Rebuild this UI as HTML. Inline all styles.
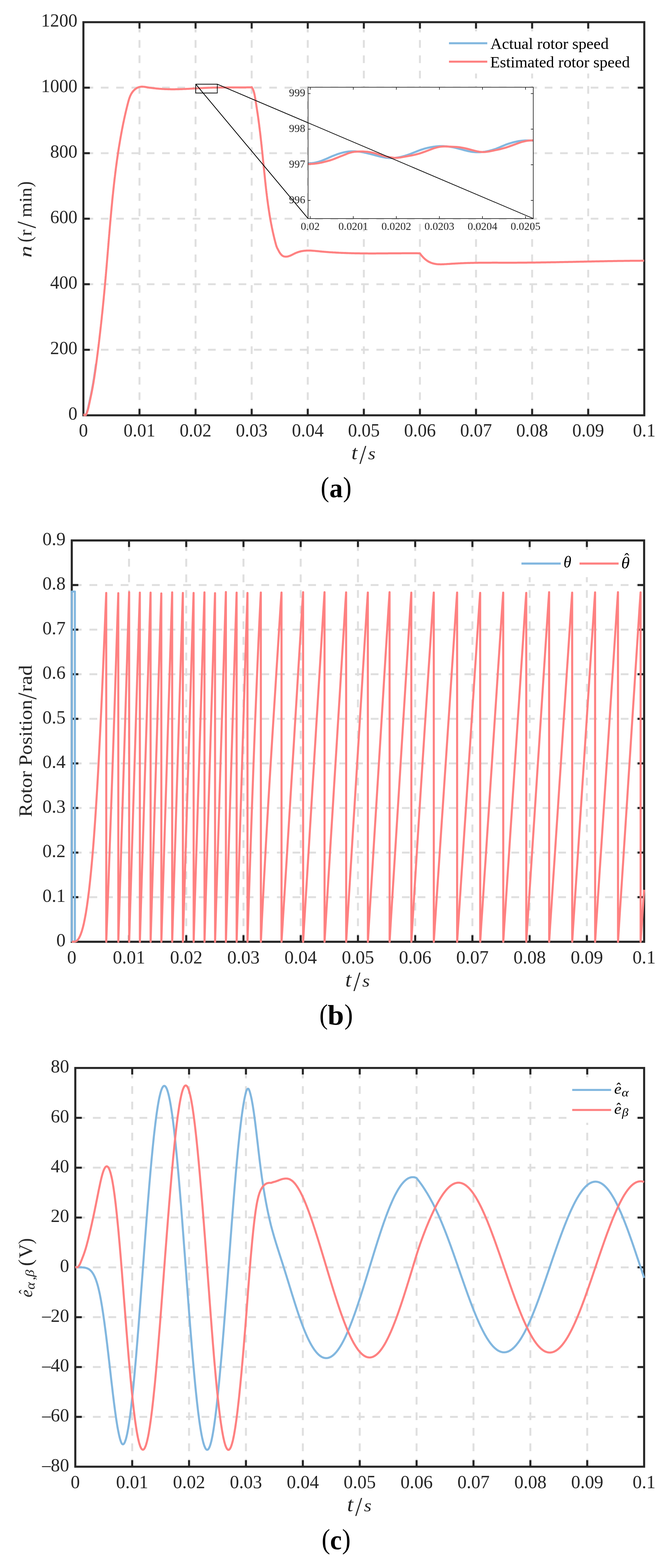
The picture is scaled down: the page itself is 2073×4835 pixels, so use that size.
<!DOCTYPE html>
<html lang="en"><head><meta charset="utf-8"><title>Rotor speed, rotor position and back-EMF estimation</title>
<style>html,body{margin:0;padding:0;background:#fff}body{width:2073px;height:4835px;overflow:hidden}svg{display:block;font-family:'Liberation Serif','DejaVu Serif',serif;font-kerning:none}</style></head><body>
<svg width="2073" height="4835" viewBox="0 0 2073 4835">
<rect width="2073" height="4835" fill="#fff"/>
<defs>
<clipPath id="ca"><rect x="254.2" y="65.2" width="1736.4" height="1218.4"/></clipPath>
<clipPath id="cb"><rect x="218.3" y="1663.4" width="1771.8" height="1243.7"/></clipPath>
<clipPath id="cc"><rect x="229.2" y="3290.1" width="1760.9" height="1235.7"/></clipPath>
</defs>
<g id="chart-a">
<path d="M430.3 1280.5V68.3M603.3 1280.5V68.3M776.4 1280.5V68.3M949.4 1280.5V68.3M1122.4 1280.5V68.3M1295.4 1280.5V68.3M1468.4 1280.5V68.3M1641.5 1280.5V68.3M1814.5 1280.5V68.3M1987.5 1078.5H257.3M1987.5 876.4H257.3M1987.5 674.4H257.3M1987.5 472.4H257.3M1987.5 270.3H257.3" fill="none" stroke="#dfdfdf" stroke-width="5.9" stroke-dasharray="23.61 23.61"/>
<path d="M257.3 68.3H1987.5V1280.5H257.3ZM430.3 1280.5v-19.8M430.3 68.3v19.8M603.3 1280.5v-19.8M603.3 68.3v19.8M776.4 1280.5v-19.8M776.4 68.3v19.8M949.4 1280.5v-19.8M949.4 68.3v19.8M1122.4 1280.5v-19.8M1122.4 68.3v19.8M1295.4 1280.5v-19.8M1295.4 68.3v19.8M1468.4 1280.5v-19.8M1468.4 68.3v19.8M1641.5 1280.5v-19.8M1641.5 68.3v19.8M1814.5 1280.5v-19.8M1814.5 68.3v19.8M257.3 1078.5h19.8M1987.5 1078.5h-19.8M257.3 876.4h19.8M1987.5 876.4h-19.8M257.3 674.4h19.8M1987.5 674.4h-19.8M257.3 472.4h19.8M1987.5 472.4h-19.8M257.3 270.3h19.8M1987.5 270.3h-19.8" fill="none" stroke="#262626" stroke-width="6.25" stroke-linejoin="miter"/>
<rect x="603.9" y="259.6" width="66.4" height="27.2" fill="#fff"/>
<path d="M265 1277.9 L266.3 1275.2 L267.5 1272.4 L268.5 1269.6 L269.4 1266.8 L270.3 1263.9 L271.1 1261 L271.8 1258.1 L272.5 1255.1 L273.1 1252.2 L273.7 1249.2 L274.4 1246.3 L275 1243.3 L275.7 1240.4 L276.3 1237.4 L276.9 1234.5 L277.6 1231.5 L278.2 1228.6 L278.8 1225.6 L279.5 1222.7 L280.1 1219.7 L280.7 1216.8 L281.3 1213.8 L281.9 1210.9 L282.5 1207.9 L283.1 1205 L283.6 1202 L284.2 1199.1 L284.7 1196.1 L285.3 1193.2 L285.8 1190.2 L286.3 1187.2 L286.8 1184.3 L287.4 1181.3 L287.9 1178.3 L288.3 1175.4 L288.8 1172.4 L289.3 1169.4 L289.8 1166.5 L290.2 1163.5 L290.7 1160.5 L291.1 1157.6 L291.6 1154.6 L292 1151.6 L292.5 1148.6 L292.9 1145.6 L293.3 1142.7 L293.7 1139.7 L294.2 1136.7 L294.6 1133.7 L295 1130.7 L295.4 1127.8 L295.8 1124.8 L296.2 1121.8" fill="none" stroke="#82b7df" stroke-width="6.25" stroke-linejoin="round" stroke-linecap="butt" clip-path="url(#ca)"/>
<path d="M257.5 1279.3 L259 1278.6 L260.6 1280.8 L262.2 1279 L264.3 1280.5 L265.7 1277.9 L267 1275.2 L268.2 1272.4 L269.2 1269.6 L270.1 1266.8 L271 1263.9 L271.8 1261 L272.5 1258.1 L273.2 1255.1 L273.8 1252.2 L274.4 1249.2 L275.1 1246.3 L275.7 1243.3 L276.4 1240.4 L277 1237.4 L277.6 1234.5 L278.3 1231.5 L278.9 1228.6 L279.5 1225.6 L280.2 1222.7 L280.8 1219.7 L281.4 1216.8 L282 1213.8 L282.6 1210.9 L283.2 1207.9 L283.8 1205 L284.3 1202 L284.9 1199.1 L285.4 1196.1 L286 1193.2 L286.5 1190.2 L287 1187.2 L287.5 1184.3 L288.1 1181.3 L288.6 1178.3 L289 1175.4 L289.5 1172.4 L290 1169.4 L290.5 1166.5 L290.9 1163.5 L291.4 1160.5 L291.8 1157.6 L292.3 1154.6 L292.7 1151.6 L293.2 1148.6 L293.6 1145.6 L294 1142.7 L294.4 1139.7 L294.9 1136.7 L295.3 1133.7 L295.7 1130.7 L296.1 1127.8 L296.5 1124.8 L296.9 1121.8 L297.3 1118.8 L297.7 1115.8 L298.1 1112.8 L298.5 1109.9 L298.9 1106.9 L299.2 1103.9 L299.6 1100.9 L300 1097.9 L300.4 1094.9 L300.8 1091.9 L301.2 1089 L301.5 1086 L301.9 1083 L302.3 1080 L302.7 1077 L303 1074 L303.4 1071 L303.8 1068.1 L304.1 1065.1 L304.5 1062.1 L304.9 1059.1 L305.2 1056.1 L305.6 1053.1 L305.9 1050.1 L306.3 1047.1 L306.6 1044.1 L307 1041.2 L307.3 1038.2 L307.7 1035.2 L308 1032.2 L308.4 1029.2 L308.7 1026.2 L309.1 1023.2 L309.4 1020.2 L309.7 1017.2 L310.1 1014.2 L310.4 1011.2 L310.7 1008.3 L311.1 1005.3 L311.4 1002.3 L311.7 999.3 L312.1 996.3 L312.4 993.3 L312.7 990.3 L313 987.3 L313.4 984.3 L313.7 981.3 L314 978.3 L314.3 975.3 L314.6 972.3 L314.9 969.3 L315.3 966.4 L315.6 963.4 L315.9 960.4 L316.2 957.4 L316.5 954.4 L316.8 951.4 L317.1 948.4 L317.4 945.4 L317.7 942.4 L318 939.4 L318.3 936.4 L318.6 933.4 L318.9 930.4 L319.2 927.4 L319.5 924.4 L319.8 921.4 L320.1 918.4 L320.3 915.4 L320.6 912.4 L320.9 909.4 L321.2 906.4 L321.5 903.4 L321.8 900.4 L322 897.5 L322.3 894.5 L322.6 891.5 L322.9 888.5 L323.1 885.5 L323.4 882.5 L323.7 879.5 L324 876.5 L324.2 873.5 L324.5 870.5 L324.8 867.5 L325 864.5 L325.3 861.5 L325.6 858.5 L325.8 855.5 L326.1 852.5 L326.4 849.5 L326.6 846.5 L326.9 843.5 L327.1 840.5 L327.4 837.5 L327.6 834.5 L327.9 831.5 L328.2 828.5 L328.4 825.5 L328.7 822.5 L328.9 819.5 L329.2 816.5 L329.4 813.5 L329.7 810.5 L329.9 807.5 L330.2 804.5 L330.4 801.5 L330.7 798.5 L330.9 795.5 L331.2 792.5 L331.4 789.5 L331.7 786.5 L331.9 783.5 L332.2 780.5 L332.4 777.5 L332.7 774.5 L332.9 771.5 L333.2 768.5 L333.4 765.5 L333.7 762.5 L333.9 759.5 L334.2 756.5 L334.4 753.5 L334.6 750.5 L334.9 747.5 L335.1 744.5 L335.4 741.5 L335.6 738.5 L335.9 735.5 L336.1 732.5 L336.4 729.5 L336.6 726.5 L336.9 723.5 L337.2 720.5 L337.4 717.6 L337.7 714.6 L337.9 711.6 L338.2 708.6 L338.4 705.6 L338.7 702.6 L338.9 699.6 L339.2 696.6 L339.5 693.6 L339.7 690.6 L340 687.6 L340.2 684.6 L340.5 681.6 L340.8 678.6 L341 675.6 L341.3 672.6 L341.6 669.6 L341.8 666.6 L342.1 663.6 L342.4 660.6 L342.7 657.6 L342.9 654.6 L343.2 651.6 L343.5 648.6 L343.8 645.6 L344 642.6 L344.3 639.6 L344.6 636.6 L344.9 633.6 L345.2 630.6 L345.5 627.6 L345.8 624.6 L346 621.6 L346.3 618.6 L346.6 615.6 L346.9 612.6 L347.2 609.6 L347.5 606.6 L347.8 603.6 L348.1 600.6 L348.5 597.6 L348.8 594.6 L349.1 591.6 L349.4 588.6 L349.7 585.7 L350 582.7 L350.4 579.7 L350.7 576.7 L351 573.7 L351.3 570.7 L351.7 567.7 L352 564.7 L352.4 561.7 L352.7 558.7 L353 555.7 L353.4 552.7 L353.7 549.8 L354.1 546.8 L354.5 543.8 L354.8 540.8 L355.2 537.8 L355.5 534.8 L355.9 531.8 L356.3 528.8 L356.7 525.9 L357 522.9 L357.4 519.9 L357.8 516.9 L358.2 513.9 L358.6 510.9 L359 508 L359.4 505 L359.8 502 L360.2 499 L360.6 496 L361 493.1 L361.5 490.1 L361.9 487.1 L362.3 484.1 L362.8 481.1 L363.2 478.2 L363.6 475.2 L364.1 472.2 L364.5 469.2 L365 466.3 L365.4 463.3 L365.9 460.3 L366.4 457.4 L366.8 454.4 L367.3 451.4 L367.8 448.5 L368.3 445.5 L368.8 442.5 L369.3 439.6 L369.8 436.6 L370.3 433.6 L370.8 430.7 L371.3 427.7 L371.8 424.7 L372.3 421.8 L372.9 418.8 L373.4 415.9 L373.9 412.9 L374.5 410 L375 407 L375.6 404 L376.1 401.1 L376.7 398.1 L377.3 395.2 L377.9 392.2 L378.4 389.3 L379 386.3 L379.6 383.4 L380.2 380.4 L380.8 377.5 L381.5 374.5 L382.1 371.6 L382.7 368.6 L383.3 365.7 L384 362.7 L384.6 359.8 L385.3 356.8 L386 353.9 L386.6 351 L387.3 348 L388 345.1 L388.7 342.1 L389.4 339.2 L390.1 336.2 L390.8 333.3 L391.5 330.4 L392.3 327.4 L393 324.5 L393.7 321.5 L394.5 318.6 L395.3 315.7 L396 312.7 L396.9 309.8 L397.7 306.9 L398.6 304.1 L399.6 301.2 L400.7 298.4 L401.8 295.7 L403.1 293 L404.4 290.4 L405.9 287.8 L407.5 285.3 L409.3 282.9 L411.2 280.6 L413.3 278.4 L415.5 276.2 L417.9 274.3 L420.5 272.5 L423.1 270.9 L425.9 269.7 L428.7 268.7 L431.6 267.9 L434.5 267.5 L437.5 267.2 L440.4 267.3 L443.4 267.5 L446.4 267.9 L449.4 268.4 L452.4 268.9 L455.3 269.4 L458.3 269.8 L461.3 270.3 L464.3 270.7 L467.3 271.1 L470.3 271.5 L473.3 271.9 L476.3 272.2 L479.3 272.5 L482.3 272.8 L485.3 273.1 L488.3 273.4 L491.3 273.7 L494.3 273.9 L497.3 274.1 L500.3 274.3 L503.3 274.5 L506.3 274.6 L509.3 274.8 L512.3 274.9 L515.3 275 L518.3 275.1 L521.3 275.2 L524.3 275.2 L527.3 275.3 L530.3 275.3 L533.3 275.3 L536.3 275.3 L539.3 275.3 L542.3 275.2 L545.3 275.2 L548.3 275.1 L551.3 275.1 L554.3 275 L557.3 274.9 L560.4 274.8 L563.4 274.7 L566.4 274.5 L569.4 274.4 L572.4 274.3 L575.4 274.1 L578.4 274 L581.4 273.8 L584.4 273.7 L587.4 273.5 L590.4 273.3 L593.4 273.2 L596.5 273 L599.5 272.8 L602.5 272.7 L605.5 272.5 L608.5 272.3 L611.5 272.1 L614.5 272 L617.5 271.8 L620.5 271.7 L623.5 271.5 L626.5 271.3 L629.6 271.2 L632.6 271.1 L635.6 270.9 L638.6 270.8 L641.6 270.7 L644.6 270.6 L647.6 270.5 L650.6 270.4 L653.6 270.3 L656.6 270.2 L659.6 270.2 L662.7 270.1 L665.7 270 L668.7 270 L671.7 269.9 L674.7 269.9 L677.7 269.8 L680.7 269.8 L683.7 269.8 L686.7 269.8 L689.7 269.7 L692.7 269.7 L695.7 269.7 L698.8 269.7 L701.8 269.7 L704.8 269.7 L707.8 269.7 L710.8 269.6 L713.8 269.6 L716.8 269.6 L719.8 269.6 L722.8 269.6 L725.8 269.6 L728.8 269.6 L731.8 269.6 L734.9 269.6 L737.9 269.6 L740.9 269.6 L743.9 269.6 L746.9 269.6 L749.9 269.5 L752.9 269.5 L755.9 269.5 L758.9 269.5 L761.9 269.4 L765 269.4 L768 269.4 L771 269.3 L774 269.3 L777 269.2 L777 269.2 L778.5 271.8 L779.8 274.5 L781 277.2 L782.1 280 L783 282.9 L783.8 285.7 L784.5 288.6 L785.2 291.6 L785.7 294.5 L786.3 297.5 L786.8 300.5 L787.3 303.4 L787.8 306.4 L788.3 309.4 L788.8 312.4 L789.2 315.4 L789.7 318.3 L790.2 321.3 L790.7 324.3 L791.1 327.3 L791.6 330.3 L792.1 333.2 L792.5 336.2 L793 339.2 L793.4 342.2 L793.9 345.2 L794.3 348.1 L794.8 351.1 L795.2 354.1 L795.6 357.1 L796.1 360.1 L796.5 363 L796.9 366 L797.3 369 L797.7 372 L798.1 375 L798.5 377.9 L798.9 380.9 L799.3 383.9 L799.7 386.9 L800 389.9 L800.4 392.9 L800.8 395.8 L801.2 398.8 L801.5 401.8 L801.9 404.8 L802.3 407.8 L802.6 410.8 L803 413.7 L803.3 416.7 L803.7 419.7 L804 422.7 L804.3 425.7 L804.7 428.7 L805 431.7 L805.3 434.7 L805.7 437.6 L806 440.6 L806.3 443.6 L806.7 446.6 L807 449.6 L807.3 452.6 L807.6 455.6 L807.9 458.6 L808.2 461.6 L808.6 464.5 L808.9 467.5 L809.2 470.5 L809.5 473.5 L809.8 476.5 L810.1 479.5 L810.4 482.5 L810.7 485.5 L811 488.5 L811.3 491.5 L811.6 494.5 L811.9 497.5 L812.2 500.5 L812.5 503.5 L812.8 506.4 L813.1 509.4 L813.4 512.4 L813.7 515.4 L814 518.4 L814.3 521.4 L814.6 524.4 L814.9 527.4 L815.2 530.4 L815.6 533.4 L815.9 536.4 L816.2 539.4 L816.5 542.4 L816.8 545.4 L817.1 548.4 L817.4 551.4 L817.7 554.4 L818 557.4 L818.3 560.4 L818.7 563.4 L819 566.4 L819.3 569.4 L819.6 572.4 L820 575.4 L820.3 578.4 L820.6 581.4 L821 584.4 L821.3 587.3 L821.7 590.3 L822 593.3 L822.4 596.3 L822.8 599.3 L823.1 602.3 L823.5 605.3 L823.9 608.3 L824.2 611.3 L824.6 614.3 L825 617.2 L825.4 620.2 L825.8 623.2 L826.2 626.2 L826.6 629.2 L827 632.2 L827.5 635.1 L827.9 638.1 L828.3 641.1 L828.8 644.1 L829.2 647 L829.7 650 L830.1 653 L830.6 656 L831.1 658.9 L831.5 661.9 L832 664.9 L832.5 667.8 L833 670.8 L833.5 673.8 L834.1 676.7 L834.6 679.7 L835.1 682.6 L835.7 685.6 L836.2 688.5 L836.8 691.5 L837.4 694.4 L838 697.4 L838.5 700.3 L839.1 703.3 L839.8 706.2 L840.4 709.2 L841 712.1 L841.6 715 L842.3 718 L843 720.9 L843.6 723.8 L844.3 726.7 L845 729.7 L845.7 732.6 L846.4 735.5 L847.1 738.4 L847.9 741.3 L848.6 744.2 L849.4 747.2 L850.2 750.1 L850.9 753 L851.8 755.9 L852.6 758.7 L853.7 761.5 L854.9 764.3 L856.2 767 L857.6 769.6 L859.1 772.3 L860.5 775.1 L862 777.7 L863.7 780.3 L865.5 782.8 L867.5 785.1 L869.6 787.2 L872 788.9 L874.5 790.2 L877.3 791 L880.3 791.4 L883.3 791.4 L886.2 791.1 L889.1 790.5 L891.9 789.6 L894.7 788.6 L897.5 787.4 L900.3 786.1 L903 784.7 L905.8 783.3 L908.5 781.9 L911.3 780.6 L914.1 779.4 L917 778.3 L919.8 777.3 L922.7 776.4 L925.6 775.6 L928.5 774.9 L931.4 774.3 L934.4 773.8 L937.4 773.4 L940.3 773.1 L943.3 772.9 L946.3 772.7 L949.3 772.6 L952.3 772.6 L955.3 772.6 L958.3 772.7 L961.3 772.9 L964.3 773.1 L967.3 773.3 L970.3 773.5 L973.3 773.8 L976.3 774.1 L979.3 774.4 L982.3 774.7 L985.3 775 L988.3 775.3 L991.3 775.6 L994.3 775.9 L997.3 776.1 L1000.3 776.4 L1003.3 776.6 L1006.3 776.9 L1009.3 777.1 L1012.4 777.3 L1015.4 777.6 L1018.4 777.8 L1021.4 778 L1024.4 778.2 L1027.4 778.4 L1030.4 778.5 L1033.4 778.7 L1036.4 778.9 L1039.4 779.1 L1042.4 779.2 L1045.4 779.4 L1048.4 779.5 L1051.4 779.6 L1054.4 779.8 L1057.4 779.9 L1060.4 780 L1063.4 780.1 L1066.4 780.2 L1069.4 780.3 L1072.4 780.4 L1075.4 780.5 L1078.4 780.6 L1081.4 780.7 L1084.4 780.8 L1087.4 780.8 L1090.4 780.9 L1093.4 781 L1096.4 781 L1099.5 781.1 L1102.5 781.1 L1105.5 781.2 L1108.5 781.2 L1111.5 781.3 L1114.5 781.3 L1117.5 781.3 L1120.5 781.4 L1123.5 781.4 L1126.5 781.4 L1129.5 781.4 L1132.6 781.4 L1135.6 781.5 L1138.6 781.5 L1141.6 781.5 L1144.6 781.5 L1147.6 781.5 L1150.6 781.5 L1153.6 781.5 L1156.6 781.5 L1159.7 781.5 L1162.7 781.4 L1165.7 781.4 L1168.7 781.4 L1171.7 781.4 L1174.7 781.4 L1177.7 781.4 L1180.7 781.4 L1183.8 781.3 L1186.8 781.3 L1189.8 781.3 L1192.8 781.3 L1195.8 781.3 L1198.8 781.2 L1201.8 781.2 L1204.8 781.2 L1207.9 781.2 L1210.9 781.1 L1213.9 781.1 L1216.9 781.1 L1219.9 781.1 L1222.9 781.1 L1225.9 781 L1228.9 781 L1231.9 781 L1234.9 781 L1238 781 L1241 780.9 L1244 780.9 L1247 780.9 L1250 780.9 L1253 780.9 L1256 780.9 L1259 780.9 L1262 780.9 L1265 780.9 L1268 780.9 L1271.1 780.9 L1274.1 780.9 L1277.1 780.9 L1280.1 780.9 L1283.1 780.9 L1286.1 780.9 L1289.1 781 L1292.1 781 L1295.1 781 L1295.1 781 L1296.9 783.5 L1298.8 786 L1300.7 788.4 L1302.8 790.7 L1304.9 793 L1307 795.2 L1309.3 797.3 L1311.6 799.3 L1313.9 801.2 L1316.3 803 L1318.8 804.7 L1321.3 806.2 L1323.9 807.7 L1326.6 808.9 L1329.3 810.1 L1332.1 811.1 L1334.8 812 L1337.7 812.8 L1340.6 813.4 L1343.5 813.9 L1346.4 814.3 L1349.4 814.6 L1352.4 814.8 L1355.4 814.9 L1358.4 815 L1361.4 815 L1364.5 814.9 L1367.5 814.8 L1370.6 814.7 L1373.7 814.5 L1376.7 814.4 L1379.8 814.2 L1382.8 814 L1385.8 813.8 L1388.9 813.6 L1391.9 813.4 L1394.9 813.2 L1397.9 813 L1401 812.8 L1404 812.7 L1407 812.5 L1410 812.3 L1413 812.2 L1416 812 L1419 811.9 L1422.1 811.7 L1425.1 811.6 L1428.1 811.5 L1431.1 811.3 L1434.1 811.2 L1437.1 811.1 L1440.2 811 L1443.2 810.9 L1446.2 810.8 L1449.2 810.8 L1452.2 810.7 L1455.3 810.6 L1458.3 810.5 L1461.3 810.5 L1464.3 810.4 L1467.3 810.4 L1470.4 810.3 L1473.4 810.3 L1476.4 810.2 L1479.4 810.2 L1482.4 810.1 L1485.5 810.1 L1488.5 810.1 L1491.5 810.1 L1494.5 810 L1497.5 810 L1500.6 810 L1503.6 810 L1506.6 810 L1509.6 810 L1512.6 810 L1515.7 810 L1518.7 809.9 L1521.7 809.9 L1524.7 809.9 L1527.7 809.9 L1530.8 809.9 L1533.8 809.9 L1536.8 810 L1539.8 810 L1542.9 810 L1545.9 810 L1548.9 810 L1551.9 810 L1554.9 810 L1558 810 L1561 810 L1564 810 L1567 810 L1570.1 810 L1573.1 810 L1576.1 810 L1579.1 810 L1582.1 810 L1585.2 810 L1588.2 810 L1591.2 810 L1594.2 810 L1597.3 809.9 L1600.3 809.9 L1603.3 809.9 L1606.3 809.9 L1609.3 809.9 L1612.4 809.9 L1615.4 809.8 L1618.4 809.8 L1621.4 809.8 L1624.4 809.8 L1627.5 809.7 L1630.5 809.7 L1633.5 809.7 L1636.5 809.6 L1639.6 809.6 L1642.6 809.6 L1645.6 809.5 L1648.6 809.5 L1651.6 809.5 L1654.7 809.4 L1657.7 809.4 L1660.7 809.4 L1663.7 809.3 L1666.7 809.3 L1669.8 809.2 L1672.8 809.2 L1675.8 809.1 L1678.8 809.1 L1681.9 809 L1684.9 809 L1687.9 808.9 L1690.9 808.9 L1693.9 808.8 L1697 808.8 L1700 808.7 L1703 808.7 L1706 808.6 L1709 808.6 L1712.1 808.5 L1715.1 808.5 L1718.1 808.4 L1721.1 808.4 L1724.2 808.3 L1727.2 808.2 L1730.2 808.2 L1733.2 808.1 L1736.2 808.1 L1739.3 808 L1742.3 807.9 L1745.3 807.9 L1748.3 807.8 L1751.3 807.8 L1754.4 807.7 L1757.4 807.6 L1760.4 807.6 L1763.4 807.5 L1766.5 807.5 L1769.5 807.4 L1772.5 807.3 L1775.5 807.3 L1778.5 807.2 L1781.6 807.1 L1784.6 807.1 L1787.6 807 L1790.6 806.9 L1793.6 806.9 L1796.7 806.8 L1799.7 806.8 L1802.7 806.7 L1805.7 806.6 L1808.7 806.6 L1811.8 806.5 L1814.8 806.4 L1817.8 806.4 L1820.8 806.3 L1823.9 806.3 L1826.9 806.2 L1829.9 806.1 L1832.9 806.1 L1835.9 806 L1839 805.9 L1842 805.9 L1845 805.8 L1848 805.8 L1851 805.7 L1854.1 805.6 L1857.1 805.6 L1860.1 805.5 L1863.1 805.5 L1866.1 805.4 L1869.2 805.4 L1872.2 805.3 L1875.2 805.2 L1878.2 805.2 L1881.3 805.1 L1884.3 805.1 L1887.3 805 L1890.3 805 L1893.3 804.9 L1896.4 804.9 L1899.4 804.8 L1902.4 804.8 L1905.4 804.7 L1908.4 804.7 L1911.5 804.7 L1914.5 804.6 L1917.5 804.6 L1920.5 804.5 L1923.6 804.5 L1926.6 804.4 L1929.6 804.4 L1932.6 804.4 L1935.6 804.3 L1938.7 804.3 L1941.7 804.3 L1944.7 804.2 L1947.7 804.2 L1950.7 804.2 L1953.8 804.1 L1956.8 804.1 L1959.8 804.1 L1962.8 804.1 L1965.8 804 L1968.9 804 L1971.9 804 L1974.9 804 L1977.9 803.9 L1981 803.9 L1984 803.9 L1987 803.9" fill="none" stroke="#fe8181" stroke-width="6.25" stroke-linejoin="round" stroke-linecap="butt" clip-path="url(#ca)"/>
<path d="M603.9 259.6H670.3V286.9H603.9ZM603.9 259.6L950.4 673.9M670.3 259.6L1645 673.9" fill="none" stroke="#000" stroke-width="2.1"/>
<rect x="949.5" y="268.1" width="696.4" height="406.7" fill="#fff"/>
<clipPath id="ci"><rect x="950.4" y="269" width="694.6" height="404.9"/></clipPath>
<path d="M956.9 673.9v-7.4M956.9 269v7.4M1089.8 673.9v-7.4M1089.8 269v7.4M1222.6 673.9v-7.4M1222.6 269v7.4M1355.5 673.9v-7.4M1355.5 269v7.4M1488.3 673.9v-7.4M1488.3 269v7.4M1621.2 673.9v-7.4M1621.2 269v7.4M950.4 288.5h7.4M1645 288.5h-7.4M950.4 398.3h7.4M1645 398.3h-7.4M950.4 508.1h7.4M1645 508.1h-7.4M950.4 617.9h7.4M1645 617.9h-7.4" fill="none" stroke="#262626" stroke-width="2"/>
<path d="M950.7 503.1 L953.9 503.2 L957 503.2 L960.1 503 L963.1 502.8 L966.1 502.4 L969.1 502 L972.1 501.4 L975 500.8 L977.9 500.1 L980.8 499.4 L983.6 498.5 L986.5 497.6 L989.3 496.7 L992.1 495.7 L994.9 494.6 L997.6 493.5 L1000.4 492.4 L1003.2 491.2 L1005.9 490 L1008.7 488.8 L1011.5 487.6 L1014.2 486.4 L1017 485.1 L1019.8 483.9 L1022.5 482.7 L1025.3 481.5 L1028.1 480.4 L1030.9 479.3 L1033.8 478.1 L1036.6 477.1 L1039.4 476 L1042.3 475 L1045.2 474.1 L1048 473.2 L1050.9 472.3 L1053.8 471.5 L1056.7 470.8 L1059.6 470 L1062.5 469.4 L1065.4 468.8 L1068.4 468.2 L1071.3 467.8 L1074.2 467.3 L1077.2 467 L1080.1 466.8 L1083.1 466.6 L1086 466.5 L1089 466.5 L1091.9 466.5 L1094.9 466.6 L1097.9 466.8 L1100.8 467 L1103.8 467.3 L1106.8 467.6 L1109.7 468 L1112.7 468.4 L1115.7 468.9 L1118.7 469.4 L1121.7 470 L1124.6 470.6 L1127.6 471.3 L1130.6 472 L1133.6 472.7 L1136.6 473.4 L1139.6 474.1 L1142.6 474.9 L1145.6 475.7 L1148.6 476.5 L1151.6 477.3 L1154.6 478.1 L1157.6 478.9 L1160.5 479.6 L1163.5 480.4 L1166.5 481.2 L1169.5 481.9 L1172.5 482.7 L1175.5 483.4 L1178.5 484 L1181.5 484.7 L1184.5 485.2 L1187.5 485.8 L1190.5 486.3 L1193.5 486.7 L1196.4 487 L1199.4 487.3 L1202.4 487.5 L1205.3 487.6 L1208.3 487.6 L1211.2 487.5 L1214.1 487.4 L1217 487.1 L1220 486.8 L1222.9 486.4 L1225.8 485.9 L1228.7 485.4 L1231.6 484.8 L1234.5 484.2 L1237.3 483.6 L1240.2 482.9 L1243.1 482.1 L1246 481.3 L1248.8 480.5 L1251.7 479.6 L1254.6 478.7 L1257.4 477.8 L1260.3 476.8 L1263.1 475.8 L1266 474.7 L1268.9 473.5 L1271.7 472.4 L1274.6 471.2 L1277.4 470.1 L1280.3 468.9 L1283.2 467.8 L1286 466.6 L1288.9 465.5 L1291.8 464.4 L1294.6 463.3 L1297.5 462.3 L1300.4 461.3 L1303.3 460.4 L1306.1 459.5 L1309 458.6 L1311.9 457.8 L1314.8 457 L1317.7 456.3 L1320.6 455.6 L1323.5 455 L1326.5 454.4 L1329.4 453.8 L1332.3 453.3 L1335.2 452.8 L1338.2 452.4 L1341.1 452 L1344 451.6 L1347 451.3 L1349.9 451.1 L1352.9 450.9 L1355.8 450.7 L1358.8 450.6 L1361.7 450.6 L1364.7 450.6 L1367.6 450.7 L1370.6 450.8 L1373.6 451 L1376.5 451.2 L1379.5 451.5 L1382.5 451.8 L1385.4 452.2 L1388.4 452.6 L1391.3 453.1 L1394.3 453.6 L1397.3 454.2 L1400.2 454.8 L1403.2 455.4 L1406.2 456.1 L1409.1 456.9 L1412.1 457.6 L1415.1 458.4 L1418 459.2 L1421 460 L1424 460.8 L1426.9 461.6 L1429.9 462.4 L1432.8 463.2 L1435.8 464 L1438.8 464.7 L1441.7 465.4 L1444.7 466.1 L1447.7 466.7 L1450.7 467.3 L1453.6 467.8 L1456.6 468.3 L1459.6 468.6 L1462.6 468.9 L1465.5 469.2 L1468.5 469.3 L1471.5 469.4 L1474.5 469.5 L1477.5 469.4 L1480.4 469.3 L1483.4 469.2 L1486.3 468.9 L1489.3 468.6 L1492.2 468.2 L1495.2 467.8 L1498.1 467.3 L1501 466.7 L1503.9 466.1 L1506.9 465.5 L1509.8 464.8 L1512.6 464.1 L1515.5 463.3 L1518.4 462.5 L1521.3 461.6 L1524.2 460.7 L1527.1 459.8 L1529.9 458.9 L1532.8 457.7 L1535.7 456.5 L1538.5 455.3 L1541.4 454.1 L1544.2 452.9 L1547.1 451.7 L1550 450.5 L1552.8 449.3 L1555.7 448.1 L1558.5 446.9 L1561.4 445.7 L1564.2 444.7 L1567.1 443.7 L1570 442.8 L1572.8 441.9 L1575.7 441 L1578.6 440.2 L1581.5 439.3 L1584.3 438.6 L1587.2 437.9 L1590.1 437.2 L1593 436.6 L1595.9 436 L1598.8 435.4 L1601.8 434.9 L1604.7 434.5 L1607.6 434.1 L1610.6 433.8 L1613.6 433.5 L1616.5 433.3 L1619.5 433.2 L1622.5 433.1 L1625.6 433.1 L1628.6 433 L1631.6 433 L1634.7 433 L1637.8 433.1 L1640.9 433.3 L1644 433.5" fill="none" stroke="#82b7df" stroke-width="6.25" stroke-linejoin="round" stroke-linecap="butt" clip-path="url(#ci)"/>
<path d="M890.5 508 L932.4 506.5 L937.3 506.4 L941.6 506.2 L945.4 506.1 L948.7 505.9 L951.4 505.8 L953.6 505.8 L955.3 505.7 L961.8 505.4 L963.2 505.3 L964.7 505.2 L966.3 505.1 L967.9 504.9 L969.6 504.8 L971.4 504.5 L973.2 504.3 L982 503.1 L983.9 502.8 L986 502.5 L988.2 502 L990.5 501.6 L993 501 L995.6 500.4 L998.3 499.7 L1011.3 496.4 L1014.1 495.6 L1016.9 494.9 L1019.7 494 L1022.5 493.1 L1025.3 492.1 L1028.1 491.1 L1030.9 490 L1043.9 484.8 L1046.6 483.7 L1049.2 482.7 L1051.7 481.7 L1054 480.8 L1056.2 479.9 L1058.3 479.1 L1060.2 478.3 L1068.9 474.8 L1070.7 474.1 L1072.4 473.4 L1074.1 472.8 L1075.6 472.3 L1077.1 471.8 L1078.4 471.4 L1079.7 471 L1085.5 469.5 L1086.8 469.1 L1088.2 468.9 L1089.8 468.6 L1091.4 468.4 L1093.2 468.2 L1095.2 468 L1097.2 467.8 L1107.2 467.2 L1109.3 467.1 L1111.4 467 L1113.6 467 L1115.8 467 L1118 467.1 L1120.2 467.2 L1122.4 467.4 L1132.9 468.2 L1135.1 468.4 L1137.2 468.7 L1139.3 469 L1141.4 469.3 L1143.4 469.6 L1145.3 470 L1147.2 470.4 L1155.9 472.4 L1157.8 472.8 L1159.6 473.3 L1161.5 473.9 L1163.4 474.4 L1165.3 475 L1167.2 475.7 L1169.2 476.3 L1178.2 479.6 L1180.2 480.3 L1182.5 480.9 L1184.9 481.5 L1187.4 482.1 L1190.2 482.7 L1193.1 483.3 L1196.3 483.8 L1211.3 486.2 L1214.7 486.6 L1218.5 486.8 L1222.6 486.7 L1227 486.5 L1231.8 486 L1237 485.3 L1242.5 484.3 L1269.1 479.4 L1274.8 478.3 L1280.5 477 L1286.2 475.5 L1291.9 473.9 L1297.6 472.2 L1303.3 470.3 L1309 468.3 L1335.5 458.3 L1341.2 456.4 L1346.9 454.8 L1352.6 453.5 L1358.3 452.5 L1364 451.9 L1369.7 451.7 L1375.4 451.7 L1402 452.9 L1407.7 453.2 L1413.4 453.7 L1419.1 454.4 L1424.7 455.3 L1430.4 456.3 L1436.1 457.5 L1441.8 458.9 L1468.4 465.9 L1474.1 467.2 L1479.8 468.1 L1485.5 468.7 L1491.2 468.8 L1496.9 468.6 L1502.6 468 L1508.2 467.1 L1534.8 461.7 L1540.5 460.4 L1546.2 459.1 L1551.9 457.6 L1557.6 456 L1563.3 454.2 L1569 452.3 L1574.7 450.3 L1601.3 440.6 L1607 438.6 L1612.7 437 L1618.4 435.6 L1624 434.5 L1629.7 433.6 L1635.4 433.1 L1641.1 432.8 L1687.6 431.5" fill="none" stroke="#fe8181" stroke-width="6.25" stroke-linejoin="round" stroke-linecap="butt" clip-path="url(#ci)"/>
<path d="M950.4 269H1645V673.9H950.4Z" fill="none" stroke="#262626" stroke-width="2"/>
<path d="M603.9 259.6L950.4 673.9M670.3 259.6L1645 673.9" fill="none" stroke="#000" stroke-width="2.1"/>
<text x="956.9" y="708.7" font-size="33.4" text-anchor="middle" fill="#262626">0.02</text>
<text x="1089.8" y="708.7" font-size="33.4" text-anchor="middle" fill="#262626">0.0201</text>
<text x="1222.6" y="708.7" font-size="33.4" text-anchor="middle" fill="#262626">0.0202</text>
<text x="1355.5" y="708.7" font-size="33.4" text-anchor="middle" fill="#262626">0.0203</text>
<text x="1488.3" y="708.7" font-size="33.4" text-anchor="middle" fill="#262626">0.0204</text>
<text x="1621.2" y="708.7" font-size="33.4" text-anchor="middle" fill="#262626">0.0205</text>
<text x="941.6" y="297.3" font-size="33.4" text-anchor="end" fill="#262626">999</text>
<text x="941.6" y="407.1" font-size="33.4" text-anchor="end" fill="#262626">998</text>
<text x="941.6" y="516.9" font-size="33.4" text-anchor="end" fill="#262626">997</text>
<text x="941.6" y="626.7" font-size="33.4" text-anchor="end" fill="#262626">996</text>
<rect x="1372" y="96.7" width="592" height="130" fill="#fff"/>
<path d="M1385 133.3H1503.2" stroke="#82b7df" stroke-width="6.25"/>
<path d="M1385 190H1503.2" stroke="#fe8181" stroke-width="6.25"/>
<text transform="translate(1512.82 150.8) scale(1 1)" font-size="49.4" fill="#000">Actual rotor speed</text>
<text transform="translate(1511.88 207.5) scale(1.0011 1)" font-size="49.4" fill="#000">Estimated rotor speed</text>
<text x="257.3" y="1346.3" font-size="56" text-anchor="middle" fill="#262626">0</text>
<text x="430.3" y="1346.3" font-size="56" text-anchor="middle" fill="#262626">0.01</text>
<text x="603.3" y="1346.3" font-size="56" text-anchor="middle" fill="#262626">0.02</text>
<text x="776.4" y="1346.3" font-size="56" text-anchor="middle" fill="#262626">0.03</text>
<text x="949.4" y="1346.3" font-size="56" text-anchor="middle" fill="#262626">0.04</text>
<text x="1122.4" y="1346.3" font-size="56" text-anchor="middle" fill="#262626">0.05</text>
<text x="1295.4" y="1346.3" font-size="56" text-anchor="middle" fill="#262626">0.06</text>
<text x="1468.4" y="1346.3" font-size="56" text-anchor="middle" fill="#262626">0.07</text>
<text x="1641.5" y="1346.3" font-size="56" text-anchor="middle" fill="#262626">0.08</text>
<text x="1814.5" y="1346.3" font-size="56" text-anchor="middle" fill="#262626">0.09</text>
<text x="1987.5" y="1346.3" font-size="56" text-anchor="middle" fill="#262626">0.1</text>
<text x="238.7" y="1294.4" font-size="56" text-anchor="end" fill="#262626">0</text>
<text x="238.7" y="1092.4" font-size="56" text-anchor="end" fill="#262626">200</text>
<text x="238.7" y="890.3" font-size="56" text-anchor="end" fill="#262626">400</text>
<text x="238.7" y="688.3" font-size="56" text-anchor="end" fill="#262626">600</text>
<text x="238.7" y="486.3" font-size="56" text-anchor="end" fill="#262626">800</text>
<text x="238.7" y="284.2" font-size="56" text-anchor="end" fill="#262626">1000</text>
<text x="238.7" y="82.2" font-size="56" text-anchor="end" fill="#262626">1200</text>
<text transform="translate(1084.06 1415.9) scale(1.0863 1)" font-size="61.63" fill="#262626" font-style="italic">t</text>
<text transform="translate(1108.7 1428.5) scale(0.9281 1)" font-size="82.22" fill="#262626">/</text>
<text transform="translate(1135.38 1415.99) scale(1.1231 1)" font-size="52.4" fill="#262626" font-style="italic">s</text>
<text transform="translate(97.1 794.31) rotate(-90) scale(1.3209 1)" font-size="55.5" fill="#262626" font-style="italic">n</text>
<text transform="translate(97.4 747.03) rotate(-90) scale(0.8681 1)" font-size="61" fill="#262626">(</text>
<text transform="translate(96.9 727.91) rotate(-90) scale(1.1201 1)" font-size="54" fill="#262626">r</text>
<text transform="translate(109.1 703.9) rotate(-90) scale(0.9393 1)" font-size="82" fill="#262626">/</text>
<text transform="translate(96.9 670.14) rotate(-90) scale(1.0944 1)" font-size="54" fill="#262626">min</text>
<text transform="translate(97.4 576.9) rotate(-90) scale(0.8649 1)" font-size="61" fill="#262626">)</text>
<text transform="translate(989.34 1531.39) scale(0.9143 1)" font-size="86.02" fill="#000">(</text>
<text transform="translate(1016.24 1532.57) scale(0.9675 1)" font-size="85.18" fill="#000" font-weight="bold">a</text>
<text transform="translate(1058.28 1531.39) scale(0.9098 1)" font-size="86.02" fill="#000">)</text>
</g>
<g id="chart-b">
<path d="M398 2904V1666.5M574.5 2904V1666.5M751.1 2904V1666.5M927.6 2904V1666.5M1104.2 2904V1666.5M1280.8 2904V1666.5M1457.3 2904V1666.5M1633.9 2904V1666.5M1810.4 2904V1666.5M1987 2766.5H221.4M1987 2629H221.4M1987 2491.5H221.4M1987 2354H221.4M1987 2216.5H221.4M1987 2079H221.4M1987 1941.5H221.4M1987 1804H221.4" fill="none" stroke="#dfdfdf" stroke-width="6.02" stroke-dasharray="24.1 24.1"/>
<path d="M221.4 1666.5H1987V2904H221.4ZM398 2904v-20.2M398 1666.5v20.2M574.5 2904v-20.2M574.5 1666.5v20.2M751.1 2904v-20.2M751.1 1666.5v20.2M927.6 2904v-20.2M927.6 1666.5v20.2M1104.2 2904v-20.2M1104.2 1666.5v20.2M1280.8 2904v-20.2M1280.8 1666.5v20.2M1457.3 2904v-20.2M1457.3 1666.5v20.2M1633.9 2904v-20.2M1633.9 1666.5v20.2M1810.4 2904v-20.2M1810.4 1666.5v20.2M221.4 2766.5h20.2M1987 2766.5h-20.2M221.4 2629h20.2M1987 2629h-20.2M221.4 2491.5h20.2M1987 2491.5h-20.2M221.4 2354h20.2M1987 2354h-20.2M221.4 2216.5h20.2M1987 2216.5h-20.2M221.4 2079h20.2M1987 2079h-20.2M221.4 1941.5h20.2M1987 1941.5h-20.2M221.4 1804h20.2M1987 1804h-20.2" fill="none" stroke="#262626" stroke-width="6.38" stroke-linejoin="miter"/>
<path d="M221.4 2904V1824.1H231V2904" fill="none" stroke="#82b7df" stroke-width="6.38" stroke-linejoin="round" clip-path="url(#cb)"/>
<path d="M221.4 2904 L224.5 2903.9 L227.7 2903.7 L230.8 2903.6 L233.9 2902.7 L237 2900.9 L240.2 2897.8 L243.3 2893.2 L246.4 2887.2 L249.5 2879.7 L252.7 2870.5 L255.8 2859.4 L258.9 2846.4 L262 2831.1 L265.2 2813.6 L268.3 2793.6 L271.4 2771 L274.6 2745.9 L277.7 2718 L280.8 2687.2 L283.9 2653.5 L287.1 2616.6 L290.2 2576.4 L293.3 2532.7 L296.4 2485.4 L299.6 2434.4 L302.7 2379.7 L305.8 2321.2 L308.9 2259.3 L312.1 2193.9 L315.2 2125.4 L318.3 2054 L321.4 1979.8 L324.6 1903.1 L327.7 1828.5 L327.8 2904 L331.1 2815.9 L334.5 2725.3 L337.8 2632.3 L341.2 2537.2 L344.6 2440.1 L348 2341.1 L351.4 2240.5 L354.8 2138.3 L358.1 2034.8 L361.5 1930 L364.9 1829.3 L365 2904 L368.2 2798.1 L371.6 2691.5 L374.9 2584.3 L378.3 2476.7 L381.6 2368.7 L385 2260.3 L388.3 2151.6 L391.7 2042.7 L395 1933.5 L398.4 1826.1 L398.5 2904 L401.7 2796.1 L405 2688 L408.3 2580 L411.6 2471.9 L414.9 2363.8 L418.2 2255.7 L421.5 2147.7 L424.8 2039.8 L428.1 1931.9 L431.4 1827.5 L431.5 2904 L434.7 2795.9 L438 2687.8 L441.3 2579.8 L444.6 2471.8 L447.9 2363.8 L451.3 2255.8 L454.6 2147.8 L457.9 2039.9 L461.2 1932 L464.5 1827.5 L464.6 2904 L467.8 2796 L471.1 2687.9 L474.4 2579.8 L477.7 2471.6 L481 2363.5 L484.4 2255.3 L487.7 2147.3 L491 2039.4 L494.3 1931.6 L497.6 1829.9 L497.8 2904 L501 2795.5 L504.3 2687.3 L507.6 2579.4 L511 2471.7 L514.4 2364.1 L517.7 2256.5 L521.1 2148.8 L524.4 2040.9 L527.8 1932.7 L531.1 1826.7 L531.2 2904 L534.4 2796.6 L537.7 2689 L541 2581 L544.3 2472.9 L547.6 2364.7 L550.9 2256.4 L554.2 2148.1 L557.5 2039.9 L560.8 1931.9 L564.1 1828.5 L564.2 2904 L567.4 2796 L570.7 2687.9 L574 2579.9 L577.3 2471.9 L580.7 2363.9 L584 2255.8 L587.3 2147.9 L590.6 2039.9 L593.9 1932 L597.2 1828.5 L597.4 2904 L600.6 2795.2 L603.9 2686.9 L607.3 2579.1 L610.6 2471.6 L614 2364.2 L617.3 2256.8 L620.7 2149.2 L624 2041.4 L627.4 1933 L630.7 1826.7 L630.9 2904 L634.3 2785.3 L637.9 2665.6 L641.6 2545.3 L645.2 2424.5 L648.8 2303.7 L652.4 2182.9 L656.1 2062.6 L659.7 1942.9 L663.3 1829.3 L663.5 2904 L666.6 2795 L670 2686.7 L673.4 2578.8 L676.7 2471.3 L680 2363.9 L683.4 2256.5 L686.8 2149 L690.1 2041.2 L693.4 1933 L696.8 1825.7 L696.9 2904 L700.1 2796.1 L703.4 2688.1 L706.7 2580.1 L710 2472.1 L713.4 2364.1 L716.7 2256 L720 2148 L723.3 2040 L726.6 1932 L729.9 1827.5 L730 2904 L733.2 2795 L736.6 2686.2 L739.9 2577.8 L743.3 2469.5 L746.6 2361.3 L750 2253.1 L753.3 2144.8 L756.7 2037 L760.1 1929.9 L763.4 1828.5 L763.5 2904 L766.8 2797.5 L770.3 2693.4 L773.7 2591.7 L777.1 2492.8 L780.6 2397 L784 2304.5 L787.4 2215.5 L790.9 2130.3 L794.3 2048.8 L797.7 1970.7 L801.2 1896 L804.6 1827.1 L804.8 2904 L807.8 2839.5 L811 2777.1 L814.2 2716.4 L817.4 2657.3 L820.5 2599.8 L823.7 2543.6 L826.9 2488.8 L830.1 2435.1 L833.3 2382.2 L836.5 2330 L839.7 2278.3 L842.9 2227.2 L846.1 2176.4 L849.3 2125.9 L852.4 2075.6 L855.6 2025.3 L858.8 1975.1 L862 1924.8 L865.2 1874.5 L868.4 1827.1 L868.5 2904 L871.6 2853.7 L874.7 2803.4 L877.9 2752.8 L881.1 2702.1 L884.3 2651.3 L887.4 2600.3 L890.6 2549.1 L893.8 2497.8 L896.9 2446.4 L900.1 2394.9 L903.3 2343.2 L906.5 2291.5 L909.6 2239.7 L912.8 2187.9 L916 2136 L919.1 2084.1 L922.3 2032.1 L925.5 1980.1 L928.7 1928.1 L931.8 1876.1 L935 1826.1 L935.1 2904 L938.1 2852.4 L941.3 2800.8 L944.4 2749.2 L947.6 2697.6 L950.7 2646 L953.9 2594.4 L957 2542.9 L960.2 2491.4 L963.3 2439.9 L966.5 2388.5 L969.6 2337 L972.8 2285.6 L975.9 2234.2 L979.1 2182.9 L982.2 2131.6 L985.4 2080.2 L988.5 2029 L991.7 1977.7 L994.8 1926.5 L998 1875.3 L1001.1 1826.1 L1001.2 2904 L1004.3 2852.4 L1007.4 2800.9 L1010.6 2749.3 L1013.8 2697.8 L1017 2646.3 L1020.1 2594.7 L1023.3 2543.2 L1026.5 2491.7 L1029.6 2440.2 L1032.8 2388.8 L1036 2337.3 L1039.2 2285.9 L1042.3 2234.5 L1045.5 2183.1 L1048.7 2131.7 L1051.8 2080.4 L1055 2029 L1058.2 1977.7 L1061.4 1926.5 L1064.5 1875.3 L1067.7 1826.7 L1067.9 2904 L1070.9 2852.5 L1074.1 2801.1 L1077.3 2749.6 L1080.5 2698.1 L1083.7 2646.7 L1086.8 2595.3 L1090 2543.8 L1093.2 2492.4 L1096.4 2441 L1099.6 2389.6 L1102.8 2338.1 L1106 2286.7 L1109.2 2235.3 L1112.4 2183.9 L1115.6 2132.5 L1118.7 2081.1 L1121.9 2029.7 L1125.1 1978.3 L1128.3 1926.9 L1131.5 1875.5 L1134.7 1827.1 L1134.9 2904 L1137.9 2852.6 L1141.1 2801.2 L1144.3 2749.8 L1147.5 2698.4 L1150.7 2646.9 L1153.8 2595.5 L1157 2544.1 L1160.2 2492.7 L1163.4 2441.3 L1166.6 2389.8 L1169.8 2338.4 L1173 2287 L1176.2 2235.6 L1179.4 2184.1 L1182.6 2132.7 L1185.7 2081.3 L1188.9 2029.8 L1192.1 1978.4 L1195.3 1927 L1198.5 1875.5 L1201.7 1826.1 L1201.9 2904 L1204.9 2852.5 L1208.1 2801 L1211.3 2749.6 L1214.5 2698.1 L1217.7 2646.7 L1220.9 2595.3 L1224.1 2543.9 L1227.3 2492.6 L1230.5 2441.2 L1233.7 2389.8 L1236.8 2338.4 L1240 2287.1 L1243.2 2235.7 L1246.4 2184.3 L1249.6 2132.9 L1252.8 2081.5 L1256 2030 L1259.2 1978.6 L1262.4 1927.1 L1265.6 1875.6 L1268.8 1827.5 L1269 2904 L1272 2853.2 L1275.1 2802.2 L1278.2 2751.3 L1281.4 2700.3 L1284.5 2649.6 L1287.7 2599.3 L1290.8 2549.2 L1294 2499.5 L1297.1 2450.1 L1300.3 2400.9 L1303.4 2352 L1306.6 2303.2 L1309.7 2254.7 L1312.9 2206.3 L1316 2158.1 L1319.2 2110.1 L1322.3 2062.1 L1325.5 2014.3 L1328.6 1966.6 L1331.8 1919 L1334.9 1871.5 L1338.1 1827.1 L1338.2 2904 L1341.2 2857 L1344.4 2810 L1347.5 2763.1 L1350.6 2716.2 L1353.8 2669.4 L1356.9 2622.5 L1360 2575.7 L1363.1 2529 L1366.3 2482.2 L1369.4 2435.4 L1372.5 2388.6 L1375.7 2341.7 L1378.8 2294.9 L1381.9 2248 L1385.1 2201.1 L1388.2 2154.2 L1391.3 2107.2 L1394.4 2060.2 L1397.6 2013.1 L1400.7 1965.9 L1403.8 1918.7 L1407 1871.4 L1410.1 1827.1 L1410.2 2904 L1413.3 2855.1 L1416.6 2806.1 L1419.8 2757.1 L1423 2708.1 L1426.3 2659.1 L1429.5 2610 L1432.7 2560.9 L1436 2511.8 L1439.2 2462.7 L1442.4 2413.6 L1445.6 2364.5 L1448.9 2315.4 L1452.1 2266.2 L1455.3 2217.1 L1458.6 2168 L1461.8 2118.8 L1465 2069.7 L1468.3 2020.5 L1471.5 1971.4 L1474.7 1922.3 L1478 1873.2 L1481.2 1828.1 L1481.4 2904 L1484.4 2854.9 L1487.7 2805.8 L1490.9 2756.7 L1494.1 2707.6 L1497.4 2658.5 L1500.6 2609.4 L1503.8 2560.3 L1507.1 2511.2 L1510.3 2462.2 L1513.5 2413.1 L1516.8 2364 L1520 2314.9 L1523.2 2265.8 L1526.4 2216.7 L1529.7 2167.6 L1532.9 2118.6 L1536.1 2069.5 L1539.4 2020.4 L1542.6 1971.3 L1545.8 1922.2 L1549.1 1873.2 L1552.3 1827.5 L1552.5 2904 L1555.5 2854.9 L1558.8 2805.8 L1562 2756.8 L1565.2 2707.7 L1568.5 2658.6 L1571.7 2609.5 L1574.9 2560.5 L1578.2 2511.4 L1581.4 2462.3 L1584.6 2413.3 L1587.8 2364.2 L1591.1 2315.1 L1594.3 2266 L1597.5 2216.9 L1600.8 2167.9 L1604 2118.8 L1607.2 2069.7 L1610.5 2020.6 L1613.7 1971.4 L1616.9 1922.3 L1620.2 1873.2 L1623.4 1828.1 L1623.5 2904 L1626.6 2855.2 L1629.8 2806.4 L1633 2757.5 L1636.2 2708.5 L1639.4 2659.4 L1642.6 2610.3 L1645.8 2561.2 L1649 2512 L1652.2 2462.8 L1655.4 2413.6 L1658.6 2364.3 L1661.9 2315.1 L1665.1 2265.8 L1668.3 2216.6 L1671.5 2167.4 L1674.7 2118.2 L1677.9 2069 L1681.1 2019.9 L1684.3 1970.9 L1687.5 1921.9 L1690.7 1872.9 L1693.9 1826.1 L1694.1 2904 L1697.1 2854.8 L1700.4 2805.6 L1703.6 2756.5 L1706.8 2707.4 L1710.1 2658.3 L1713.3 2609.2 L1716.5 2560.2 L1719.8 2511.1 L1723 2462.1 L1726.2 2413.1 L1729.5 2364.1 L1732.7 2315.1 L1735.9 2266.1 L1739.1 2217 L1742.4 2168 L1745.6 2119 L1748.8 2069.9 L1752.1 2020.8 L1755.3 1971.7 L1758.5 1922.5 L1761.8 1873.3 L1765 1827.5 L1765.2 2904 L1768.2 2855 L1771.4 2806 L1774.6 2757 L1777.9 2708 L1781.1 2658.9 L1784.3 2609.9 L1787.5 2560.8 L1790.7 2511.8 L1793.9 2462.7 L1797.1 2413.6 L1800.4 2364.5 L1803.6 2315.4 L1806.8 2266.3 L1810 2217.1 L1813.2 2168 L1816.4 2118.9 L1819.6 2069.8 L1822.8 2020.6 L1826.1 1971.5 L1829.3 1922.4 L1832.5 1873.2 L1835.7 1826.7 L1835.9 2904 L1838.9 2854.9 L1842.1 2805.9 L1845.3 2756.9 L1848.5 2707.8 L1851.7 2658.8 L1855 2609.8 L1858.2 2560.8 L1861.4 2511.8 L1864.6 2462.8 L1867.8 2413.7 L1871 2364.7 L1874.2 2315.7 L1877.4 2266.6 L1880.6 2217.5 L1883.8 2168.4 L1887 2119.3 L1890.3 2070.2 L1893.5 2021 L1896.7 1971.8 L1899.9 1922.6 L1903.1 1873.4 L1906.3 1826.1 L1906.5 2904 L1909.5 2855.2 L1912.6 2806.3 L1915.8 2757.4 L1919 2708.4 L1922.2 2659.3 L1925.3 2610.2 L1928.5 2561.1 L1931.7 2511.9 L1934.9 2462.7 L1938 2413.5 L1941.2 2364.3 L1944.4 2315 L1947.5 2265.8 L1950.7 2216.6 L1953.9 2167.4 L1957.1 2118.2 L1960.2 2069 L1963.4 2019.9 L1966.6 1970.9 L1969.8 1921.9 L1972.9 1872.9 L1976.1 1826.7 L1976.2 2904 L1978.3 2872 L1980.5 2839.9 L1982.6 2807.9 L1984.8 2775.8 L1987 2743.8" fill="none" stroke="#fe8181" stroke-width="6.38" stroke-linejoin="round" stroke-linecap="butt" clip-path="url(#cb)"/>
<rect x="1596" y="1695.4" width="366" height="84.2" fill="#fff"/>
<path d="M1608.6 1737.8H1729.8" stroke="#82b7df" stroke-width="6.38"/>
<path d="M1787.8 1737.8H1908.3" stroke="#fe8181" stroke-width="6.38"/>
<text transform="translate(1738.3 1750.4) scale(0.9525 1)" font-size="51.62" fill="#000" font-style="italic">θ</text>
<text transform="translate(1916.29 1753.01) scale(1.0618 1)" font-size="50.35" fill="#000" font-style="italic">θ</text>
<text transform="translate(1926.11 1740.59) scale(0.8823 1)" font-size="50.87" fill="#000">ˆ</text>
<text x="221.4" y="2971.1" font-size="57.15" text-anchor="middle" fill="#262626">0</text>
<text x="398" y="2971.1" font-size="57.15" text-anchor="middle" fill="#262626">0.01</text>
<text x="574.5" y="2971.1" font-size="57.15" text-anchor="middle" fill="#262626">0.02</text>
<text x="751.1" y="2971.1" font-size="57.15" text-anchor="middle" fill="#262626">0.03</text>
<text x="927.6" y="2971.1" font-size="57.15" text-anchor="middle" fill="#262626">0.04</text>
<text x="1104.2" y="2971.1" font-size="57.15" text-anchor="middle" fill="#262626">0.05</text>
<text x="1280.8" y="2971.1" font-size="57.15" text-anchor="middle" fill="#262626">0.06</text>
<text x="1457.3" y="2971.1" font-size="57.15" text-anchor="middle" fill="#262626">0.07</text>
<text x="1633.9" y="2971.1" font-size="57.15" text-anchor="middle" fill="#262626">0.08</text>
<text x="1810.4" y="2971.1" font-size="57.15" text-anchor="middle" fill="#262626">0.09</text>
<text x="1987" y="2971.1" font-size="57.15" text-anchor="middle" fill="#262626">0.1</text>
<text x="202.4" y="2918.2" font-size="57.15" text-anchor="end" fill="#262626">0</text>
<text x="202.4" y="2780.7" font-size="57.15" text-anchor="end" fill="#262626">0.1</text>
<text x="202.4" y="2643.2" font-size="57.15" text-anchor="end" fill="#262626">0.2</text>
<text x="202.4" y="2505.7" font-size="57.15" text-anchor="end" fill="#262626">0.3</text>
<text x="202.4" y="2368.2" font-size="57.15" text-anchor="end" fill="#262626">0.4</text>
<text x="202.4" y="2230.7" font-size="57.15" text-anchor="end" fill="#262626">0.5</text>
<text x="202.4" y="2093.2" font-size="57.15" text-anchor="end" fill="#262626">0.6</text>
<text x="202.4" y="1955.7" font-size="57.15" text-anchor="end" fill="#262626">0.7</text>
<text x="202.4" y="1818.2" font-size="57.15" text-anchor="end" fill="#262626">0.8</text>
<text x="202.4" y="1680.7" font-size="57.15" text-anchor="end" fill="#262626">0.9</text>
<text transform="translate(1065.07 3042.17) scale(1.0863 1)" font-size="62.89" fill="#262626" font-style="italic">t</text>
<text transform="translate(1090.22 3055.03) scale(0.9281 1)" font-size="83.9" fill="#262626">/</text>
<text transform="translate(1117.45 3042.26) scale(1.1231 1)" font-size="53.47" fill="#262626" font-style="italic">s</text>
<text transform="translate(98.1 2519.39) rotate(-90) scale(1.0735 1)" font-size="58" fill="#262626">Rotor Position</text>
<text transform="translate(111 2157) rotate(-90) scale(0.9085 1)" font-size="82.8" fill="#262626">/</text>
<text transform="translate(98.1 2133.5) rotate(-90) scale(1.1165 1)" font-size="58" fill="#262626">rad</text>
<text transform="translate(985.36 3157.49) scale(0.9098 1)" font-size="86.02" fill="#000">(</text>
<text transform="translate(1010.75 3158.65) scale(1.0328 1)" font-size="87.41" fill="#000" font-weight="bold">b</text>
<text transform="translate(1062.38 3157.49) scale(0.9098 1)" font-size="86.02" fill="#000">)</text>
</g>
<g id="chart-c">
<path d="M407.8 4522.7V3293.2M583.2 4522.7V3293.2M758.7 4522.7V3293.2M934.2 4522.7V3293.2M1109.7 4522.7V3293.2M1285.1 4522.7V3293.2M1460.6 4522.7V3293.2M1636.1 4522.7V3293.2M1811.5 4522.7V3293.2M1987 4369H232.3M1987 4215.3H232.3M1987 4061.6H232.3M1987 3907.9H232.3M1987 3754.3H232.3M1987 3600.6H232.3M1987 3446.9H232.3" fill="none" stroke="#dfdfdf" stroke-width="5.98" stroke-dasharray="23.95 23.95"/>
<path d="M232.3 3293.2H1987V4522.7H232.3ZM407.8 4522.7v-20.1M407.8 3293.2v20.1M583.2 4522.7v-20.1M583.2 3293.2v20.1M758.7 4522.7v-20.1M758.7 3293.2v20.1M934.2 4522.7v-20.1M934.2 3293.2v20.1M1109.7 4522.7v-20.1M1109.7 3293.2v20.1M1285.1 4522.7v-20.1M1285.1 3293.2v20.1M1460.6 4522.7v-20.1M1460.6 3293.2v20.1M1636.1 4522.7v-20.1M1636.1 3293.2v20.1M1811.5 4522.7v-20.1M1811.5 3293.2v20.1M232.3 4369h20.1M1987 4369h-20.1M232.3 4215.3h20.1M1987 4215.3h-20.1M232.3 4061.6h20.1M1987 4061.6h-20.1M232.3 3907.9h20.1M1987 3907.9h-20.1M232.3 3754.3h20.1M1987 3754.3h-20.1M232.3 3600.6h20.1M1987 3600.6h-20.1M232.3 3446.9h20.1M1987 3446.9h-20.1" fill="none" stroke="#262626" stroke-width="6.34" stroke-linejoin="miter"/>
<path d="M232.3 3907.9 L234.1 3908 L235.8 3908 L237.6 3908 L239.3 3908 L241.1 3908 L242.8 3908 L244.6 3908 L246.3 3908 L248.1 3908 L249.8 3908 L251.6 3908.1 L253.4 3908.1 L255.1 3908.2 L256.9 3908.4 L258.6 3908.5 L260.4 3908.8 L262.1 3909 L263.9 3909.4 L265.6 3909.8 L267.4 3910.4 L269.1 3911 L270.9 3911.8 L272.7 3912.7 L274.4 3913.7 L276.2 3914.9 L277.9 3916.4 L279.7 3918 L281.4 3919.8 L283.2 3921.9 L284.9 3924.2 L286.7 3926.8 L288.5 3929.8 L290.2 3933.1 L292 3936.7 L293.7 3940.7 L295.5 3945.1 L297.2 3950 L299 3955.4 L300.7 3961.2 L302.5 3967.6 L304.2 3974.6 L306 3982.2 L307.8 3990.4 L309.5 3999.2 L311.3 4008.6 L313 4018.6 L314.8 4029.1 L316.5 4040.2 L318.3 4051.8 L320 4064 L321.8 4076.5 L323.5 4089.6 L325.3 4103 L327.1 4116.8 L328.8 4130.9 L330.6 4145.4 L332.3 4160.1 L334.1 4175 L335.8 4190.2 L337.6 4205.4 L339.3 4220.7 L341.1 4236.1 L342.8 4251.4 L344.6 4266.6 L346.4 4281.7 L348.1 4296.5 L349.9 4311 L351.6 4325.1 L353.4 4338.8 L355.1 4352 L356.9 4364.6 L358.6 4376.6 L360.4 4388 L362.1 4398.6 L363.9 4408.4 L365.7 4417.4 L367.4 4425.6 L369.2 4432.9 L370.9 4439.3 L372.7 4444.7 L374.4 4448.9 L376.2 4451.8 L377.9 4453.4 L379.7 4453.7 L381.4 4452.7 L383.2 4450.5 L385 4447.2 L386.7 4442.7 L388.5 4437.1 L390.2 4430.5 L392 4422.8 L393.7 4414.1 L395.5 4404.4 L397.2 4393.8 L399 4382.1 L400.8 4369.6 L402.5 4356.1 L404.3 4341.8 L406 4326.7 L407.8 4310.7 L409.5 4293.9 L411.3 4276.4 L413 4258.2 L414.8 4239.3 L416.5 4219.9 L418.3 4199.8 L420.1 4179.2 L421.8 4158.1 L423.6 4136.6 L425.3 4114.7 L427.1 4092.4 L428.8 4069.8 L430.6 4047 L432.3 4023.9 L434.1 4000.6 L435.8 3977.2 L437.6 3953.7 L439.4 3930.1 L441.1 3906.5 L442.9 3883 L444.6 3859.4 L446.4 3836 L448.1 3812.8 L449.9 3789.7 L451.6 3766.8 L453.4 3744.2 L455.1 3721.9 L456.9 3699.9 L458.7 3678.3 L460.4 3657.1 L462.2 3636.3 L463.9 3616.1 L465.7 3596.3 L467.4 3577.1 L469.2 3558.5 L470.9 3540.5 L472.7 3523.2 L474.4 3506.5 L476.2 3490.5 L478 3475.3 L479.7 3460.8 L481.5 3447.1 L483.2 3434.2 L485 3422.1 L486.7 3410.9 L488.5 3400.5 L490.2 3391.1 L492 3382.5 L493.8 3374.9 L495.5 3368.2 L497.3 3362.5 L499 3357.7 L500.8 3353.9 L502.5 3351.1 L504.3 3349.2 L506 3348.3 L507.8 3348.4 L509.5 3349.4 L511.3 3351.4 L513.1 3354.3 L514.8 3358.2 L516.6 3363.1 L518.3 3368.8 L520.1 3375.5 L521.8 3383 L523.6 3391.5 L525.3 3400.8 L527.1 3411 L528.8 3422 L530.6 3433.9 L532.4 3446.6 L534.1 3460.1 L535.9 3474.4 L537.6 3489.5 L539.4 3505.3 L541.1 3521.8 L542.9 3539.1 L544.6 3557 L546.4 3575.6 L548.1 3594.8 L549.9 3614.6 L551.7 3634.9 L553.4 3655.7 L555.2 3676.9 L556.9 3698.6 L558.7 3720.7 L560.4 3743.1 L562.2 3765.8 L563.9 3788.8 L565.7 3811.9 L567.4 3835.2 L569.2 3858.6 L571 3882.1 L572.7 3905.6 L574.5 3929.1 L576.2 3952.6 L578 3976 L579.7 3999.3 L581.5 4022.4 L583.2 4045.4 L585 4068 L586.7 4090.5 L588.5 4112.6 L590.3 4134.3 L592 4155.7 L593.8 4176.6 L595.5 4197 L597.3 4216.9 L599 4236.3 L600.8 4255.2 L602.5 4273.4 L604.3 4290.9 L606.1 4307.8 L607.8 4324 L609.6 4339.4 L611.3 4354 L613.1 4367.8 L614.8 4380.8 L616.6 4393 L618.3 4404.3 L620.1 4414.8 L621.8 4424.4 L623.6 4433.2 L625.4 4441 L627.1 4448 L628.9 4454 L630.6 4459.1 L632.4 4463.3 L634.1 4466.6 L635.9 4468.9 L637.6 4470.2 L639.4 4470.5 L641.1 4469.9 L642.9 4468.2 L644.7 4465.5 L646.4 4461.9 L648.2 4457.2 L649.9 4451.4 L651.7 4444.7 L653.4 4437 L655.2 4428.3 L656.9 4418.7 L658.7 4408.1 L660.4 4396.6 L662.2 4384.3 L664 4371.1 L665.7 4357.1 L667.5 4342.3 L669.2 4326.8 L671 4310.6 L672.7 4293.8 L674.5 4276.4 L676.2 4258.4 L678 4239.8 L679.7 4220.7 L681.5 4201.1 L683.3 4181.1 L685 4160.6 L686.8 4139.7 L688.5 4118.4 L690.3 4096.7 L692 4074.7 L693.8 4052.4 L695.5 4029.9 L697.3 4007.1 L699.1 3984.1 L700.8 3960.9 L702.6 3937.5 L704.3 3914 L706.1 3890.4 L707.8 3866.9 L709.6 3843.4 L711.3 3820.1 L713.1 3796.9 L714.8 3773.8 L716.6 3751.1 L718.4 3728.6 L720.1 3706.4 L721.9 3684.5 L723.6 3663.1 L725.4 3642 L727.1 3621.5 L728.9 3601.4 L730.6 3581.9 L732.4 3563 L734.1 3544.7 L735.9 3527 L737.7 3509.9 L739.4 3493.6 L741.2 3478.1 L742.9 3463.3 L744.7 3449.3 L746.4 3436.1 L748.2 3423.8 L749.9 3412.2 L751.7 3401.6 L753.4 3391.8 L755.2 3382.9 L757 3374.9 L758.7 3367.8 L760.5 3362.7 L762.2 3359.3 L764 3357.4 L765.7 3357.1 L767.5 3358.7 L769.2 3362.5 L771 3367.9 L772.7 3374.3 L774.5 3381.7 L776.3 3390 L778 3399.3 L779.8 3409.5 L781.5 3420.5 L783.3 3432.4 L785 3445.1 L786.8 3458.5 L788.5 3472.4 L790.3 3486.9 L792 3501.7 L793.8 3516.8 L795.6 3532 L797.3 3547.1 L799.1 3562.1 L800.8 3576.7 L802.6 3590.9 L804.3 3604.6 L806.1 3617.8 L807.8 3630.4 L809.6 3642.4 L811.4 3654 L813.1 3665.1 L814.9 3675.7 L816.6 3686 L818.4 3695.8 L820.1 3705.3 L821.9 3714.5 L823.6 3723.4 L825.4 3732.1 L827.1 3740.4 L828.9 3748.5 L830.7 3756.4 L832.4 3764 L834.2 3771.5 L835.9 3778.6 L837.7 3785.3 L839.4 3791.7 L841.2 3798 L842.9 3804.2 L844.7 3810.3 L846.4 3816.3 L848.2 3822.2 L850 3828.1 L851.7 3833.8 L853.5 3839.4 L855.2 3845 L857 3850.5 L858.7 3856.1 L860.5 3861.5 L862.2 3867 L864 3872.5 L865.7 3877.9 L867.5 3883.4 L869.3 3888.9 L871 3894.4 L872.8 3899.9 L874.5 3905.5 L876.3 3911 L878 3916.6 L879.8 3922.2 L881.5 3927.8 L883.3 3933.4 L885 3939.1 L886.8 3944.8 L888.6 3950.5 L890.3 3956.2 L892.1 3961.9 L893.8 3967.6 L895.6 3973.3 L897.3 3979 L899.1 3984.7 L900.8 3990.4 L902.6 3996 L904.4 4001.6 L906.1 4007.2 L907.9 4012.8 L909.6 4018.3 L911.4 4023.8 L913.1 4029.2 L914.9 4034.6 L916.6 4040 L918.4 4045.2 L920.1 4050.5 L921.9 4055.6 L923.7 4060.7 L925.4 4065.7 L927.2 4070.7 L928.9 4075.5 L930.7 4080.3 L932.4 4085 L934.2 4089.6 L935.9 4094.1 L937.7 4098.6 L939.4 4102.9 L941.2 4107.2 L943 4111.3 L944.7 4115.4 L946.5 4119.4 L948.2 4123.2 L950 4127 L951.7 4130.6 L953.5 4134.2 L955.2 4137.6 L957 4140.9 L958.7 4144.2 L960.5 4147.3 L962.3 4150.3 L964 4153.2 L965.8 4156 L967.5 4158.6 L969.3 4161.2 L971 4163.6 L972.8 4165.9 L974.5 4168.2 L976.3 4170.3 L978 4172.2 L979.8 4174.1 L981.6 4175.9 L983.3 4177.5 L985.1 4179 L986.8 4180.4 L988.6 4181.7 L990.3 4182.8 L992.1 4183.9 L993.8 4184.8 L995.6 4185.6 L997.3 4186.2 L999.1 4186.8 L1000.9 4187.2 L1002.6 4187.5 L1004.4 4187.7 L1006.1 4187.8 L1007.9 4187.7 L1009.6 4187.6 L1011.4 4187.3 L1013.1 4186.9 L1014.9 4186.3 L1016.7 4185.7 L1018.4 4184.9 L1020.2 4184 L1021.9 4183 L1023.7 4181.9 L1025.4 4180.6 L1027.2 4179.3 L1028.9 4177.8 L1030.7 4176.2 L1032.4 4174.5 L1034.2 4172.7 L1036 4170.7 L1037.7 4168.7 L1039.5 4166.5 L1041.2 4164.3 L1043 4161.9 L1044.7 4159.4 L1046.5 4156.8 L1048.2 4154.1 L1050 4151.3 L1051.7 4148.4 L1053.5 4145.4 L1055.3 4142.3 L1057 4139.1 L1058.8 4135.8 L1060.5 4132.4 L1062.3 4128.9 L1064 4125.3 L1065.8 4121.6 L1067.5 4117.8 L1069.3 4114 L1071 4110 L1072.8 4106 L1074.6 4101.9 L1076.3 4097.7 L1078.1 4093.5 L1079.8 4089.1 L1081.6 4084.7 L1083.3 4080.2 L1085.1 4075.6 L1086.8 4071 L1088.6 4066.3 L1090.3 4061.5 L1092.1 4056.7 L1093.9 4051.8 L1095.6 4046.8 L1097.4 4041.8 L1099.1 4036.7 L1100.9 4031.6 L1102.6 4026.4 L1104.4 4021.2 L1106.1 4015.9 L1107.9 4010.6 L1109.6 4005.2 L1111.4 3999.8 L1113.2 3994.3 L1114.9 3988.8 L1116.7 3983.3 L1118.4 3977.8 L1120.2 3972.2 L1121.9 3966.6 L1123.7 3960.9 L1125.4 3955.3 L1127.2 3949.6 L1129 3943.9 L1130.7 3938.2 L1132.5 3932.5 L1134.2 3926.8 L1136 3921 L1137.7 3915.3 L1139.5 3909.5 L1141.2 3903.8 L1143 3898 L1144.7 3892.3 L1146.5 3886.6 L1148.3 3880.8 L1150 3875.1 L1151.8 3869.4 L1153.5 3863.7 L1155.3 3858 L1157 3852.4 L1158.8 3846.8 L1160.5 3841.2 L1162.3 3835.6 L1164 3830.1 L1165.8 3824.6 L1167.6 3819.1 L1169.3 3813.7 L1171.1 3808.3 L1172.8 3802.9 L1174.6 3797.6 L1176.3 3792.4 L1178.1 3787.1 L1179.8 3782 L1181.6 3776.9 L1183.3 3771.8 L1185.1 3766.8 L1186.9 3761.9 L1188.6 3757 L1190.4 3752.2 L1192.1 3747.5 L1193.9 3742.8 L1195.6 3738.2 L1197.4 3733.7 L1199.1 3729.2 L1200.9 3724.9 L1202.6 3720.6 L1204.4 3716.4 L1206.2 3712.2 L1207.9 3708.2 L1209.7 3704.2 L1211.4 3700.3 L1213.2 3696.5 L1214.9 3692.8 L1216.7 3689.2 L1218.4 3685.7 L1220.2 3682.3 L1222 3679 L1223.7 3675.8 L1225.5 3672.7 L1227.2 3669.6 L1229 3666.7 L1230.7 3663.9 L1232.5 3661.2 L1234.2 3658.6 L1236 3656.1 L1237.7 3653.7 L1239.5 3651.4 L1241.3 3649.3 L1243 3647.2 L1244.8 3645.3 L1246.5 3643.4 L1248.3 3641.7 L1250 3640.1 L1251.8 3638.6 L1253.5 3637.2 L1255.3 3635.9 L1257 3634.8 L1258.8 3633.8 L1260.6 3632.8 L1262.3 3632.1 L1264.1 3631.4 L1265.8 3630.8 L1267.6 3630.4 L1269.3 3630.1 L1271.1 3629.8 L1272.8 3629.8 L1274.6 3629.8 L1276.3 3630 L1278.1 3630.2 L1279.9 3630.6 L1281.6 3631.2 L1283.4 3631.8 L1285.1 3632.8 L1286.9 3635 L1288.6 3637.2 L1290.4 3639.4 L1292.1 3641.7 L1293.9 3644 L1295.6 3646.4 L1297.4 3648.8 L1299.2 3651.2 L1300.9 3653.7 L1302.7 3656.2 L1304.4 3658.8 L1306.2 3661.4 L1307.9 3664.1 L1309.7 3666.7 L1311.4 3669.5 L1313.2 3672.3 L1314.9 3675.1 L1316.7 3677.9 L1318.5 3680.8 L1320.2 3683.8 L1322 3686.8 L1323.7 3689.8 L1325.5 3692.9 L1327.2 3696 L1329 3699.2 L1330.7 3702.4 L1332.5 3705.7 L1334.3 3709 L1336 3712.4 L1337.8 3715.9 L1339.5 3719.3 L1341.3 3722.9 L1343 3726.5 L1344.8 3730.1 L1346.5 3733.8 L1348.3 3737.5 L1350 3741.3 L1351.8 3745.2 L1353.6 3749.1 L1355.3 3753 L1357.1 3757 L1358.8 3761.1 L1360.6 3765.2 L1362.3 3769.3 L1364.1 3773.6 L1365.8 3777.8 L1367.6 3782.1 L1369.3 3786.5 L1371.1 3790.9 L1372.9 3795.3 L1374.6 3799.8 L1376.4 3804.3 L1378.1 3808.9 L1379.9 3813.5 L1381.6 3818.2 L1383.4 3822.9 L1385.1 3827.6 L1386.9 3832.3 L1388.6 3837.1 L1390.4 3841.9 L1392.2 3846.8 L1393.9 3851.7 L1395.7 3856.6 L1397.4 3861.5 L1399.2 3866.4 L1400.9 3871.4 L1402.7 3876.4 L1404.4 3881.4 L1406.2 3886.4 L1407.9 3891.5 L1409.7 3896.5 L1411.5 3901.6 L1413.2 3906.7 L1415 3911.7 L1416.7 3916.8 L1418.5 3921.9 L1420.2 3927 L1422 3932 L1423.7 3937.1 L1425.5 3942.1 L1427.3 3947.2 L1429 3952.2 L1430.8 3957.2 L1432.5 3962.2 L1434.3 3967.2 L1436 3972.2 L1437.8 3977.1 L1439.5 3982 L1441.3 3986.9 L1443 3991.8 L1444.8 3996.6 L1446.6 4001.4 L1448.3 4006.2 L1450.1 4010.9 L1451.8 4015.6 L1453.6 4020.2 L1455.3 4024.8 L1457.1 4029.4 L1458.8 4033.9 L1460.6 4038.4 L1462.3 4042.8 L1464.1 4047.1 L1465.9 4051.4 L1467.6 4055.7 L1469.4 4059.9 L1471.1 4064 L1472.9 4068.1 L1474.6 4072.1 L1476.4 4076.1 L1478.1 4080 L1479.9 4083.8 L1481.6 4087.6 L1483.4 4091.3 L1485.2 4094.9 L1486.9 4098.4 L1488.7 4101.9 L1490.4 4105.3 L1492.2 4108.6 L1493.9 4111.9 L1495.7 4115.1 L1497.4 4118.2 L1499.2 4121.2 L1500.9 4124.1 L1502.7 4127 L1504.5 4129.7 L1506.2 4132.4 L1508 4135 L1509.7 4137.5 L1511.5 4139.9 L1513.2 4142.3 L1515 4144.5 L1516.7 4146.7 L1518.5 4148.7 L1520.2 4150.7 L1522 4152.6 L1523.8 4154.4 L1525.5 4156 L1527.3 4157.6 L1529 4159.1 L1530.8 4160.5 L1532.5 4161.9 L1534.3 4163.1 L1536 4164.2 L1537.8 4165.2 L1539.6 4166.1 L1541.3 4166.9 L1543.1 4167.7 L1544.8 4168.3 L1546.6 4168.8 L1548.3 4169.2 L1550.1 4169.6 L1551.8 4169.8 L1553.6 4169.9 L1555.3 4169.9 L1557.1 4169.9 L1558.9 4169.7 L1560.6 4169.4 L1562.4 4169.1 L1564.1 4168.6 L1565.9 4168 L1567.6 4167.4 L1569.4 4166.6 L1571.1 4165.7 L1572.9 4164.8 L1574.6 4163.7 L1576.4 4162.6 L1578.2 4161.3 L1579.9 4160 L1581.7 4158.5 L1583.4 4157 L1585.2 4155.4 L1586.9 4153.6 L1588.7 4151.8 L1590.4 4149.9 L1592.2 4147.9 L1593.9 4145.8 L1595.7 4143.6 L1597.5 4141.3 L1599.2 4139 L1601 4136.5 L1602.7 4134 L1604.5 4131.4 L1606.2 4128.7 L1608 4125.9 L1609.7 4123 L1611.5 4120 L1613.2 4117 L1615 4113.9 L1616.8 4110.7 L1618.5 4107.4 L1620.3 4104.1 L1622 4100.6 L1623.8 4097.1 L1625.5 4093.6 L1627.3 4089.9 L1629 4086.2 L1630.8 4082.4 L1632.6 4078.5 L1634.3 4074.6 L1636.1 4070.6 L1637.8 4066.6 L1639.6 4062.4 L1641.3 4058.2 L1643.1 4054 L1644.8 4049.7 L1646.6 4045.3 L1648.3 4040.9 L1650.1 4036.4 L1651.9 4031.9 L1653.6 4027.3 L1655.4 4022.7 L1657.1 4018 L1658.9 4013.3 L1660.6 4008.6 L1662.4 4003.8 L1664.1 3998.9 L1665.9 3994 L1667.6 3989.1 L1669.4 3984.2 L1671.2 3979.2 L1672.9 3974.3 L1674.7 3969.2 L1676.4 3964.2 L1678.2 3959.1 L1679.9 3954.1 L1681.7 3949 L1683.4 3943.9 L1685.2 3938.7 L1686.9 3933.6 L1688.7 3928.5 L1690.5 3923.3 L1692.2 3918.2 L1694 3913.1 L1695.7 3907.9 L1697.5 3902.8 L1699.2 3897.6 L1701 3892.5 L1702.7 3887.4 L1704.5 3882.3 L1706.2 3877.2 L1708 3872.1 L1709.8 3867 L1711.5 3862 L1713.3 3856.9 L1715 3851.9 L1716.8 3846.9 L1718.5 3841.9 L1720.3 3837 L1722 3832.1 L1723.8 3827.2 L1725.5 3822.3 L1727.3 3817.5 L1729.1 3812.7 L1730.8 3807.9 L1732.6 3803.2 L1734.3 3798.5 L1736.1 3793.8 L1737.8 3789.2 L1739.6 3784.7 L1741.3 3780.2 L1743.1 3775.7 L1744.9 3771.3 L1746.6 3766.9 L1748.4 3762.6 L1750.1 3758.3 L1751.9 3754.1 L1753.6 3750 L1755.4 3745.9 L1757.1 3741.8 L1758.9 3737.9 L1760.6 3734 L1762.4 3730.1 L1764.2 3726.3 L1765.9 3722.6 L1767.7 3719 L1769.4 3715.4 L1771.2 3711.9 L1772.9 3708.5 L1774.7 3705.1 L1776.4 3701.9 L1778.2 3698.7 L1779.9 3695.6 L1781.7 3692.5 L1783.5 3689.6 L1785.2 3686.7 L1787 3683.9 L1788.7 3681.2 L1790.5 3678.6 L1792.2 3676.1 L1794 3673.6 L1795.7 3671.3 L1797.5 3669 L1799.2 3666.9 L1801 3664.8 L1802.8 3662.8 L1804.5 3660.9 L1806.3 3659.1 L1808 3657.4 L1809.8 3655.8 L1811.5 3654.3 L1813.3 3652.9 L1815 3651.6 L1816.8 3650.4 L1818.5 3649.3 L1820.3 3648.3 L1822.1 3647.4 L1823.8 3646.6 L1825.6 3645.8 L1827.3 3645.2 L1829.1 3644.7 L1830.8 3644.3 L1832.6 3644 L1834.3 3643.8 L1836.1 3643.7 L1837.9 3643.7 L1839.6 3643.8 L1841.4 3644 L1843.1 3644.3 L1844.9 3644.7 L1846.6 3645.2 L1848.4 3645.8 L1850.1 3646.6 L1851.9 3647.4 L1853.6 3648.3 L1855.4 3649.3 L1857.2 3650.4 L1858.9 3651.6 L1860.7 3652.9 L1862.4 3654.3 L1864.2 3655.8 L1865.9 3657.4 L1867.7 3659.1 L1869.4 3660.9 L1871.2 3662.8 L1872.9 3664.8 L1874.7 3666.9 L1876.5 3669.1 L1878.2 3671.3 L1880 3673.7 L1881.7 3676.2 L1883.5 3678.7 L1885.2 3681.3 L1887 3684.1 L1888.7 3686.9 L1890.5 3689.8 L1892.2 3692.7 L1894 3695.8 L1895.8 3698.9 L1897.5 3702.2 L1899.3 3705.5 L1901 3708.9 L1902.8 3712.4 L1904.5 3715.9 L1906.3 3719.5 L1908 3723.2 L1909.8 3727 L1911.5 3730.9 L1913.3 3734.8 L1915.1 3738.8 L1916.8 3742.9 L1918.6 3747 L1920.3 3751.2 L1922.1 3755.5 L1923.8 3759.8 L1925.6 3764.2 L1927.3 3768.6 L1929.1 3773.1 L1930.8 3777.7 L1932.6 3782.3 L1934.4 3787 L1936.1 3791.7 L1937.9 3796.5 L1939.6 3801.3 L1941.4 3806.1 L1943.1 3811 L1944.9 3816 L1946.6 3820.9 L1948.4 3825.9 L1950.2 3831 L1951.9 3836 L1953.7 3841.1 L1955.4 3846.3 L1957.2 3851.4 L1958.9 3856.6 L1960.7 3861.8 L1962.4 3867 L1964.2 3872.2 L1965.9 3877.4 L1967.7 3882.6 L1969.5 3887.9 L1971.2 3893.1 L1973 3898.4 L1974.7 3903.6 L1976.5 3908.9 L1978.2 3914.1 L1980 3919.3 L1981.7 3924.6 L1983.5 3929.8 L1985.2 3935 L1987 3940.2" fill="none" stroke="#82b7df" stroke-width="6.34" stroke-linejoin="round" stroke-linecap="butt" clip-path="url(#cc)"/>
<path d="M232.3 3907.3 L234.1 3906.9 L235.8 3907.9 L237.6 3907.2 L239.3 3907.9 L241.1 3906.2 L242.8 3904.1 L244.6 3901.5 L246.3 3898.4 L248.1 3894.5 L249.8 3890.1 L251.6 3885.7 L253.4 3881.2 L255.1 3876.7 L256.9 3872.1 L258.6 3867.4 L260.4 3862.3 L262.1 3857.1 L263.9 3851.5 L265.6 3845.6 L267.4 3839.3 L269.1 3832.8 L270.9 3826 L272.7 3819 L274.4 3811.7 L276.2 3804.4 L277.9 3796.9 L279.7 3789.3 L281.4 3781.5 L283.2 3773.7 L284.9 3765.7 L286.7 3757.6 L288.5 3749.3 L290.2 3741 L292 3732.6 L293.7 3724.1 L295.5 3715.5 L297.2 3706.8 L299 3698.1 L300.7 3689.3 L302.5 3680.5 L304.2 3671.7 L306 3663.1 L307.8 3654.6 L309.5 3646.4 L311.3 3638.7 L313 3631.4 L314.8 3624.6 L316.5 3618.5 L318.3 3613 L320 3608.2 L321.8 3604.3 L323.5 3601.1 L325.3 3598.7 L327.1 3597.2 L328.8 3596.5 L330.6 3596.7 L332.3 3597.8 L334.1 3599.7 L335.8 3602.6 L337.6 3606.4 L339.3 3611.2 L341.1 3617 L342.8 3623.7 L344.6 3631.5 L346.4 3640.2 L348.1 3650 L349.9 3660.8 L351.6 3672.5 L353.4 3685.3 L355.1 3699 L356.9 3713.6 L358.6 3729.1 L360.4 3745.5 L362.1 3762.6 L363.9 3780.6 L365.7 3799.3 L367.4 3818.7 L369.2 3838.7 L370.9 3859.2 L372.7 3880.3 L374.4 3901.9 L376.2 3923.9 L377.9 3946.2 L379.7 3968.6 L381.4 3991.2 L383.2 4013.8 L385 4036.4 L386.7 4058.8 L388.5 4081.2 L390.2 4103.3 L392 4125.1 L393.7 4146.7 L395.5 4167.9 L397.2 4188.7 L399 4209 L400.8 4228.8 L402.5 4248.1 L404.3 4266.8 L406 4284.9 L407.8 4302.3 L409.5 4319 L411.3 4335 L413 4350.2 L414.8 4364.6 L416.5 4378.1 L418.3 4390.8 L420.1 4402.6 L421.8 4413.4 L423.6 4423.4 L425.3 4432.4 L427.1 4440.5 L428.8 4447.6 L430.6 4453.8 L432.3 4459 L434.1 4463.2 L435.8 4466.5 L437.6 4468.7 L439.4 4470 L441.1 4470.3 L442.9 4469.6 L444.6 4468 L446.4 4465.3 L448.1 4461.7 L449.9 4457.1 L451.6 4451.5 L453.4 4445 L455.1 4437.6 L456.9 4429.3 L458.7 4420 L460.4 4409.8 L462.2 4398.8 L463.9 4386.9 L465.7 4374.2 L467.4 4360.7 L469.2 4346.4 L470.9 4331.3 L472.7 4315.5 L474.4 4299 L476.2 4281.8 L478 4264 L479.7 4245.5 L481.5 4226.4 L483.2 4206.8 L485 4186.6 L486.7 4165.9 L488.5 4144.8 L490.2 4123.3 L492 4101.5 L493.8 4079.2 L495.5 4056.8 L497.3 4034 L499 4011.1 L500.8 3987.9 L502.5 3964.7 L504.3 3941.4 L506 3918.1 L507.8 3894.8 L509.5 3871.5 L511.3 3848.4 L513.1 3825.3 L514.8 3802.5 L516.6 3779.9 L518.3 3757.5 L520.1 3735.4 L521.8 3713.6 L523.6 3692.1 L525.3 3671 L527.1 3650.2 L528.8 3629.9 L530.6 3610.1 L532.4 3590.7 L534.1 3571.9 L535.9 3553.6 L537.6 3535.9 L539.4 3518.7 L541.1 3502.3 L542.9 3486.5 L544.6 3471.4 L546.4 3457 L548.1 3443.4 L549.9 3430.7 L551.7 3418.7 L553.4 3407.6 L555.2 3397.4 L556.9 3388.1 L558.7 3379.7 L560.4 3372.2 L562.2 3365.7 L563.9 3360.1 L565.7 3355.5 L567.4 3351.9 L569.2 3349.3 L571 3347.7 L572.7 3347.1 L574.5 3347.4 L576.2 3348.7 L578 3351 L579.7 3354.3 L581.5 3358.6 L583.2 3363.8 L585 3370 L586.7 3377.1 L588.5 3385.2 L590.3 3394.1 L592 3404 L593.8 3414.8 L595.5 3426.4 L597.3 3438.9 L599 3452.2 L600.8 3466.3 L602.5 3481.2 L604.3 3496.8 L606.1 3513.2 L607.8 3530.2 L609.6 3547.8 L611.3 3566 L613.1 3584.7 L614.8 3604 L616.6 3623.7 L618.3 3643.9 L620.1 3664.6 L621.8 3685.6 L623.6 3707 L625.4 3728.8 L627.1 3750.9 L628.9 3773.3 L630.6 3796 L632.4 3818.9 L634.1 3842 L635.9 3865.3 L637.6 3888.7 L639.4 3912.2 L641.1 3935.8 L642.9 3959.5 L644.7 3983.2 L646.4 4006.8 L648.2 4030.4 L649.9 4053.7 L651.7 4076.8 L653.4 4099.6 L655.2 4122.1 L656.9 4144.2 L658.7 4165.9 L660.4 4187.1 L662.2 4207.7 L664 4227.7 L665.7 4247.1 L667.5 4265.9 L669.2 4283.9 L671 4301.2 L672.7 4317.7 L674.5 4333.4 L676.2 4348.4 L678 4362.6 L679.7 4375.9 L681.5 4388.4 L683.3 4400.1 L685 4410.9 L686.8 4420.9 L688.5 4430 L690.3 4438.2 L692 4445.6 L693.8 4452 L695.5 4457.5 L697.3 4462 L699.1 4465.7 L700.8 4468.3 L702.6 4470.1 L704.3 4470.8 L706.1 4470.6 L707.8 4469.3 L709.6 4467.1 L711.3 4463.9 L713.1 4459.8 L714.8 4454.6 L716.6 4448.5 L718.4 4441.5 L720.1 4433.5 L721.9 4424.6 L723.6 4414.8 L725.4 4404.1 L727.1 4392.5 L728.9 4380.1 L730.6 4366.9 L732.4 4352.8 L734.1 4338 L735.9 4322.4 L737.7 4306.1 L739.4 4289.1 L741.2 4271.5 L742.9 4253.3 L744.7 4234.5 L746.4 4215.1 L748.2 4195.3 L749.9 4174.9 L751.7 4154.2 L753.4 4132.9 L755.2 4111.4 L757 4089.4 L758.7 4067.1 L760.5 4044.3 L762.2 4021.3 L764 3998.1 L765.7 3975 L767.5 3952.1 L769.2 3929.5 L771 3907.5 L772.7 3886.1 L774.5 3865.5 L776.3 3845.7 L778 3826.8 L779.8 3808.7 L781.5 3791.7 L783.3 3775.7 L785 3760.8 L786.8 3747 L788.5 3734.4 L790.3 3722.9 L792 3712.7 L793.8 3703.6 L795.6 3695.7 L797.3 3688.7 L799.1 3682.8 L800.8 3677.6 L802.6 3673.2 L804.3 3669.3 L806.1 3666 L807.8 3663 L809.6 3660.4 L811.4 3658.2 L813.1 3656.2 L814.9 3654.4 L816.6 3652.9 L818.4 3651.6 L820.1 3650.5 L821.9 3649.5 L823.6 3648.8 L825.4 3648.2 L827.1 3647.8 L828.9 3647.5 L830.7 3647.3 L832.4 3647.3 L834.2 3647.4 L835.9 3647.5 L837.7 3647 L839.4 3646.3 L841.2 3645.6 L842.9 3645.1 L844.7 3644.6 L846.4 3644.2 L848.2 3643.7 L850 3643.2 L851.7 3642.6 L853.5 3642 L855.2 3641.3 L857 3640.7 L858.7 3640 L860.5 3639.3 L862.2 3638.6 L864 3637.9 L865.7 3637.3 L867.5 3636.7 L869.3 3636.1 L871 3635.7 L872.8 3635.2 L874.5 3634.8 L876.3 3634.6 L878 3634.3 L879.8 3634.2 L881.5 3634.1 L883.3 3634.1 L885 3634.2 L886.8 3634.4 L888.6 3634.8 L890.3 3635.2 L892.1 3635.8 L893.8 3636.5 L895.6 3637.4 L897.3 3638.4 L899.1 3639.5 L900.8 3640.8 L902.6 3642.3 L904.4 3643.8 L906.1 3645.6 L907.9 3647.4 L909.6 3649.4 L911.4 3651.6 L913.1 3653.9 L914.9 3656.3 L916.6 3658.9 L918.4 3661.5 L920.1 3664.3 L921.9 3667.3 L923.7 3670.4 L925.4 3673.5 L927.2 3676.8 L928.9 3680.3 L930.7 3683.8 L932.4 3687.5 L934.2 3691.2 L935.9 3695.1 L937.7 3699.1 L939.4 3703.1 L941.2 3707.3 L943 3711.6 L944.7 3715.9 L946.5 3720.4 L948.2 3724.9 L950 3729.5 L951.7 3734.2 L953.5 3739 L955.2 3743.8 L957 3748.7 L958.7 3753.7 L960.5 3758.8 L962.3 3763.9 L964 3769 L965.8 3774.3 L967.5 3779.6 L969.3 3784.9 L971 3790.3 L972.8 3795.7 L974.5 3801.2 L976.3 3806.7 L978 3812.2 L979.8 3817.8 L981.6 3823.5 L983.3 3829.1 L985.1 3834.8 L986.8 3840.5 L988.6 3846.2 L990.3 3852 L992.1 3857.8 L993.8 3863.6 L995.6 3869.4 L997.3 3875.2 L999.1 3881 L1000.9 3886.9 L1002.6 3892.7 L1004.4 3898.6 L1006.1 3904.4 L1007.9 3910.2 L1009.6 3916.1 L1011.4 3921.9 L1013.1 3927.7 L1014.9 3933.6 L1016.7 3939.4 L1018.4 3945.1 L1020.2 3950.9 L1021.9 3956.6 L1023.7 3962.4 L1025.4 3968 L1027.2 3973.7 L1028.9 3979.3 L1030.7 3984.9 L1032.4 3990.5 L1034.2 3996 L1036 4001.5 L1037.7 4006.9 L1039.5 4012.3 L1041.2 4017.7 L1043 4023 L1044.7 4028.2 L1046.5 4033.4 L1048.2 4038.6 L1050 4043.6 L1051.7 4048.7 L1053.5 4053.6 L1055.3 4058.5 L1057 4063.3 L1058.8 4068.1 L1060.5 4072.7 L1062.3 4077.3 L1064 4081.9 L1065.8 4086.3 L1067.5 4090.7 L1069.3 4095 L1071 4099.2 L1072.8 4103.4 L1074.6 4107.4 L1076.3 4111.4 L1078.1 4115.2 L1079.8 4119 L1081.6 4122.7 L1083.3 4126.3 L1085.1 4129.8 L1086.8 4133.2 L1088.6 4136.5 L1090.3 4139.8 L1092.1 4142.9 L1093.9 4145.9 L1095.6 4148.8 L1097.4 4151.6 L1099.1 4154.3 L1100.9 4156.9 L1102.6 4159.4 L1104.4 4161.8 L1106.1 4164.1 L1107.9 4166.3 L1109.6 4168.3 L1111.4 4170.3 L1113.2 4172.1 L1114.9 4173.8 L1116.7 4175.4 L1118.4 4176.9 L1120.2 4178.3 L1121.9 4179.6 L1123.7 4180.7 L1125.4 4181.8 L1127.2 4182.7 L1129 4183.5 L1130.7 4184.2 L1132.5 4184.7 L1134.2 4185.2 L1136 4185.5 L1137.7 4185.7 L1139.5 4185.8 L1141.2 4185.8 L1143 4185.7 L1144.7 4185.4 L1146.5 4185 L1148.3 4184.5 L1150 4183.9 L1151.8 4183.2 L1153.5 4182.3 L1155.3 4181.3 L1157 4180.2 L1158.8 4179 L1160.5 4177.7 L1162.3 4176.3 L1164 4174.7 L1165.8 4173.1 L1167.6 4171.3 L1169.3 4169.4 L1171.1 4167.4 L1172.8 4165.3 L1174.6 4163.1 L1176.3 4160.7 L1178.1 4158.3 L1179.8 4155.8 L1181.6 4153.1 L1183.3 4150.3 L1185.1 4147.5 L1186.9 4144.5 L1188.6 4141.4 L1190.4 4138.3 L1192.1 4135 L1193.9 4131.6 L1195.6 4128.2 L1197.4 4124.6 L1199.1 4121 L1200.9 4117.2 L1202.6 4113.4 L1204.4 4109.5 L1206.2 4105.5 L1207.9 4101.4 L1209.7 4097.2 L1211.4 4093 L1213.2 4088.6 L1214.9 4084.2 L1216.7 4079.8 L1218.4 4075.2 L1220.2 4070.6 L1222 4065.9 L1223.7 4061.1 L1225.5 4056.3 L1227.2 4051.4 L1229 4046.5 L1230.7 4041.5 L1232.5 4036.4 L1234.2 4031.3 L1236 4026.1 L1237.7 4020.9 L1239.5 4015.6 L1241.3 4010.3 L1243 4004.9 L1244.8 3999.5 L1246.5 3994.1 L1248.3 3988.6 L1250 3983.1 L1251.8 3977.5 L1253.5 3972 L1255.3 3966.4 L1257 3960.7 L1258.8 3955.1 L1260.6 3949.4 L1262.3 3943.7 L1264.1 3938 L1265.8 3932.3 L1267.6 3926.5 L1269.3 3920.8 L1271.1 3915 L1272.8 3909.3 L1274.6 3903.5 L1276.3 3897.7 L1278.1 3892 L1279.9 3886.2 L1281.6 3880.4 L1283.4 3874.7 L1285.1 3869 L1286.9 3863.5 L1288.6 3858.1 L1290.4 3852.8 L1292.1 3847.6 L1293.9 3842.4 L1295.6 3837.3 L1297.4 3832.3 L1299.2 3827.3 L1300.9 3822.4 L1302.7 3817.6 L1304.4 3812.9 L1306.2 3808.2 L1307.9 3803.6 L1309.7 3799 L1311.4 3794.5 L1313.2 3790 L1314.9 3785.6 L1316.7 3781.3 L1318.5 3777 L1320.2 3772.8 L1322 3768.6 L1323.7 3764.4 L1325.5 3760.4 L1327.2 3756.4 L1329 3752.4 L1330.7 3748.5 L1332.5 3744.6 L1334.3 3740.8 L1336 3737.1 L1337.8 3733.4 L1339.5 3729.8 L1341.3 3726.2 L1343 3722.7 L1344.8 3719.3 L1346.5 3715.9 L1348.3 3712.6 L1350 3709.4 L1351.8 3706.2 L1353.6 3703.1 L1355.3 3700.1 L1357.1 3697.1 L1358.8 3694.2 L1360.6 3691.4 L1362.3 3688.7 L1364.1 3686 L1365.8 3683.4 L1367.6 3680.9 L1369.3 3678.5 L1371.1 3676.2 L1372.9 3673.9 L1374.6 3671.7 L1376.4 3669.6 L1378.1 3667.6 L1379.9 3665.7 L1381.6 3663.9 L1383.4 3662.2 L1385.1 3660.5 L1386.9 3659 L1388.6 3657.5 L1390.4 3656.1 L1392.2 3654.8 L1393.9 3653.6 L1395.7 3652.5 L1397.4 3651.5 L1399.2 3650.6 L1400.9 3649.8 L1402.7 3649.1 L1404.4 3648.5 L1406.2 3648 L1407.9 3647.6 L1409.7 3647.3 L1411.5 3647 L1413.2 3646.9 L1415 3646.9 L1416.7 3647 L1418.5 3647.2 L1420.2 3647.5 L1422 3647.8 L1423.7 3648.3 L1425.5 3648.9 L1427.3 3649.6 L1429 3650.4 L1430.8 3651.2 L1432.5 3652.2 L1434.3 3653.3 L1436 3654.5 L1437.8 3655.7 L1439.5 3657.1 L1441.3 3658.6 L1443 3660.1 L1444.8 3661.8 L1446.6 3663.6 L1448.3 3665.4 L1450.1 3667.4 L1451.8 3669.4 L1453.6 3671.5 L1455.3 3673.7 L1457.1 3676 L1458.8 3678.4 L1460.6 3680.9 L1462.3 3683.5 L1464.1 3686.2 L1465.9 3688.9 L1467.6 3691.7 L1469.4 3694.7 L1471.1 3697.7 L1472.9 3700.7 L1474.6 3703.9 L1476.4 3707.1 L1478.1 3710.4 L1479.9 3713.8 L1481.6 3717.3 L1483.4 3720.8 L1485.2 3724.4 L1486.9 3728.1 L1488.7 3731.9 L1490.4 3735.7 L1492.2 3739.6 L1493.9 3743.5 L1495.7 3747.5 L1497.4 3751.6 L1499.2 3755.7 L1500.9 3759.9 L1502.7 3764.1 L1504.5 3768.4 L1506.2 3772.8 L1508 3777.2 L1509.7 3781.6 L1511.5 3786.1 L1513.2 3790.7 L1515 3795.3 L1516.7 3799.9 L1518.5 3804.6 L1520.2 3809.3 L1522 3814 L1523.8 3818.8 L1525.5 3823.7 L1527.3 3828.5 L1529 3833.4 L1530.8 3838.3 L1532.5 3843.3 L1534.3 3848.2 L1536 3853.2 L1537.8 3858.2 L1539.6 3863.2 L1541.3 3868.3 L1543.1 3873.3 L1544.8 3878.4 L1546.6 3883.5 L1548.3 3888.6 L1550.1 3893.7 L1551.8 3898.8 L1553.6 3903.9 L1555.3 3909 L1557.1 3914.1 L1558.9 3919.2 L1560.6 3924.3 L1562.4 3929.4 L1564.1 3934.5 L1565.9 3939.6 L1567.6 3944.6 L1569.4 3949.7 L1571.1 3954.7 L1572.9 3959.7 L1574.6 3964.7 L1576.4 3969.7 L1578.2 3974.7 L1579.9 3979.6 L1581.7 3984.5 L1583.4 3989.4 L1585.2 3994.2 L1586.9 3999 L1588.7 4003.8 L1590.4 4008.5 L1592.2 4013.2 L1593.9 4017.9 L1595.7 4022.5 L1597.5 4027.1 L1599.2 4031.6 L1601 4036.1 L1602.7 4040.5 L1604.5 4044.9 L1606.2 4049.3 L1608 4053.5 L1609.7 4057.8 L1611.5 4061.9 L1613.2 4066.1 L1615 4070.1 L1616.8 4074.1 L1618.5 4078 L1620.3 4081.9 L1622 4085.7 L1623.8 4089.4 L1625.5 4093.1 L1627.3 4096.7 L1629 4100.2 L1630.8 4103.7 L1632.6 4107.1 L1634.3 4110.4 L1636.1 4113.6 L1637.8 4116.8 L1639.6 4119.9 L1641.3 4122.9 L1643.1 4125.8 L1644.8 4128.6 L1646.6 4131.4 L1648.3 4134.1 L1650.1 4136.6 L1651.9 4139.1 L1653.6 4141.6 L1655.4 4143.9 L1657.1 4146.1 L1658.9 4148.2 L1660.6 4150.3 L1662.4 4152.2 L1664.1 4154.1 L1665.9 4155.9 L1667.6 4157.5 L1669.4 4159.1 L1671.2 4160.6 L1672.9 4161.9 L1674.7 4163.2 L1676.4 4164.4 L1678.2 4165.4 L1679.9 4166.4 L1681.7 4167.3 L1683.4 4168.1 L1685.2 4168.7 L1686.9 4169.3 L1688.7 4169.8 L1690.5 4170.1 L1692.2 4170.4 L1694 4170.6 L1695.7 4170.6 L1697.5 4170.6 L1699.2 4170.5 L1701 4170.2 L1702.7 4169.9 L1704.5 4169.5 L1706.2 4168.9 L1708 4168.3 L1709.8 4167.6 L1711.5 4166.7 L1713.3 4165.8 L1715 4164.8 L1716.8 4163.7 L1718.5 4162.4 L1720.3 4161.1 L1722 4159.7 L1723.8 4158.2 L1725.5 4156.6 L1727.3 4154.9 L1729.1 4153.1 L1730.8 4151.2 L1732.6 4149.3 L1734.3 4147.2 L1736.1 4145 L1737.8 4142.8 L1739.6 4140.4 L1741.3 4138 L1743.1 4135.5 L1744.9 4132.9 L1746.6 4130.2 L1748.4 4127.4 L1750.1 4124.6 L1751.9 4121.6 L1753.6 4118.6 L1755.4 4115.5 L1757.1 4112.3 L1758.9 4109 L1760.6 4105.7 L1762.4 4102.3 L1764.2 4098.8 L1765.9 4095.2 L1767.7 4091.5 L1769.4 4087.8 L1771.2 4084 L1772.9 4080.2 L1774.7 4076.2 L1776.4 4072.3 L1778.2 4068.2 L1779.9 4064.1 L1781.7 4059.9 L1783.5 4055.7 L1785.2 4051.4 L1787 4047 L1788.7 4042.6 L1790.5 4038.1 L1792.2 4033.6 L1794 4029.1 L1795.7 4024.5 L1797.5 4019.8 L1799.2 4015.1 L1801 4010.4 L1802.8 4005.6 L1804.5 4000.8 L1806.3 3995.9 L1808 3991 L1809.8 3986.1 L1811.5 3981.1 L1813.3 3976.1 L1815 3971.1 L1816.8 3966.1 L1818.5 3961 L1820.3 3955.9 L1822.1 3950.8 L1823.8 3945.7 L1825.6 3940.6 L1827.3 3935.4 L1829.1 3930.3 L1830.8 3925.1 L1832.6 3919.9 L1834.3 3914.7 L1836.1 3909.5 L1837.9 3904.4 L1839.6 3899.2 L1841.4 3894 L1843.1 3888.8 L1844.9 3883.6 L1846.6 3878.5 L1848.4 3873.3 L1850.1 3868.2 L1851.9 3863.1 L1853.6 3858 L1855.4 3852.9 L1857.2 3847.8 L1858.9 3842.8 L1860.7 3837.7 L1862.4 3832.8 L1864.2 3827.8 L1865.9 3822.9 L1867.7 3817.9 L1869.4 3813.1 L1871.2 3808.2 L1872.9 3803.4 L1874.7 3798.7 L1876.5 3794 L1878.2 3789.3 L1880 3784.7 L1881.7 3780.1 L1883.5 3775.5 L1885.2 3771.1 L1887 3766.6 L1888.7 3762.2 L1890.5 3757.9 L1892.2 3753.6 L1894 3749.4 L1895.8 3745.3 L1897.5 3741.2 L1899.3 3737.2 L1901 3733.2 L1902.8 3729.3 L1904.5 3725.5 L1906.3 3721.7 L1908 3718 L1909.8 3714.4 L1911.5 3710.8 L1913.3 3707.4 L1915.1 3704 L1916.8 3700.6 L1918.6 3697.4 L1920.3 3694.2 L1922.1 3691.1 L1923.8 3688.1 L1925.6 3685.2 L1927.3 3682.4 L1929.1 3679.7 L1930.8 3677 L1932.6 3674.5 L1934.4 3672 L1936.1 3669.6 L1937.9 3667.4 L1939.6 3665.2 L1941.4 3663.1 L1943.1 3661.1 L1944.9 3659.2 L1946.6 3657.4 L1948.4 3655.7 L1950.2 3654.1 L1951.9 3652.6 L1953.7 3651.2 L1955.4 3649.9 L1957.2 3648.8 L1958.9 3647.7 L1960.7 3646.7 L1962.4 3645.8 L1964.2 3645.1 L1965.9 3644.4 L1967.7 3643.8 L1969.5 3643.4 L1971.2 3643 L1973 3642.8 L1974.7 3642.6 L1976.5 3642.6 L1978.2 3642.7 L1980 3642.8 L1981.7 3643.1 L1983.5 3643.5 L1985.2 3644 L1987 3644.5" fill="none" stroke="#fe8181" stroke-width="6.34" stroke-linejoin="round" stroke-linecap="butt" clip-path="url(#cc)"/>
<rect x="1747.6" y="3322" width="215.6" height="140" fill="#fff"/>
<path d="M1765.2 3360.8H1885.2" stroke="#82b7df" stroke-width="6.34"/>
<path d="M1765.2 3422.7H1885.2" stroke="#fe8181" stroke-width="6.34"/>
<text transform="translate(1894.53 3373.35) scale(1.0987 1)" font-size="46.37" fill="#000" font-style="italic">e</text>
<text transform="translate(1901.84 3373.16) scale(0.8296 1)" font-size="49.53" fill="#000">ˆ</text>
<text transform="translate(1917.78 3381.04) scale(1.1716 1)" font-size="34.86" fill="#000" font-style="italic">α</text>
<text transform="translate(1894.53 3435.25) scale(1.0987 1)" font-size="46.37" fill="#000" font-style="italic">e</text>
<text transform="translate(1901.84 3435.06) scale(0.8296 1)" font-size="49.53" fill="#000">ˆ</text>
<text transform="translate(1918.84 3441.5) scale(1.0806 1)" font-size="36.64" fill="#000" font-style="italic">β</text>
<text x="232.3" y="4589.4" font-size="56.79" text-anchor="middle" fill="#262626">0</text>
<text x="407.8" y="4589.4" font-size="56.79" text-anchor="middle" fill="#262626">0.01</text>
<text x="583.2" y="4589.4" font-size="56.79" text-anchor="middle" fill="#262626">0.02</text>
<text x="758.7" y="4589.4" font-size="56.79" text-anchor="middle" fill="#262626">0.03</text>
<text x="934.2" y="4589.4" font-size="56.79" text-anchor="middle" fill="#262626">0.04</text>
<text x="1109.7" y="4589.4" font-size="56.79" text-anchor="middle" fill="#262626">0.05</text>
<text x="1285.1" y="4589.4" font-size="56.79" text-anchor="middle" fill="#262626">0.06</text>
<text x="1460.6" y="4589.4" font-size="56.79" text-anchor="middle" fill="#262626">0.07</text>
<text x="1636.1" y="4589.4" font-size="56.79" text-anchor="middle" fill="#262626">0.08</text>
<text x="1811.5" y="4589.4" font-size="56.79" text-anchor="middle" fill="#262626">0.09</text>
<text x="1987" y="4589.4" font-size="56.79" text-anchor="middle" fill="#262626">0.1</text>
<text x="213.4" y="4536.8" font-size="56.79" text-anchor="end" fill="#262626">80</text>
<text transform="translate(126.44 4541.4) scale(1.0481 1)" font-size="56.79" fill="#262626">−</text>
<text x="213.4" y="4383.1" font-size="56.79" text-anchor="end" fill="#262626">60</text>
<text transform="translate(126.44 4387.71) scale(1.0481 1)" font-size="56.79" fill="#262626">−</text>
<text x="213.4" y="4229.4" font-size="56.79" text-anchor="end" fill="#262626">40</text>
<text transform="translate(126.44 4234.02) scale(1.0481 1)" font-size="56.79" fill="#262626">−</text>
<text x="213.4" y="4075.7" font-size="56.79" text-anchor="end" fill="#262626">20</text>
<text transform="translate(126.44 4080.33) scale(1.0481 1)" font-size="56.79" fill="#262626">−</text>
<text x="213.4" y="3922" font-size="56.79" text-anchor="end" fill="#262626">0</text>
<text x="213.4" y="3768.4" font-size="56.79" text-anchor="end" fill="#262626">20</text>
<text x="213.4" y="3614.7" font-size="56.79" text-anchor="end" fill="#262626">40</text>
<text x="213.4" y="3461" font-size="56.79" text-anchor="end" fill="#262626">60</text>
<text x="213.4" y="3307.3" font-size="56.79" text-anchor="end" fill="#262626">80</text>
<text transform="translate(1070.76 4660.02) scale(1.0863 1)" font-size="62.5" fill="#262626" font-style="italic">t</text>
<text transform="translate(1095.76 4672.79) scale(0.9281 1)" font-size="83.38" fill="#262626">/</text>
<text transform="translate(1122.82 4660.11) scale(1.1231 1)" font-size="53.14" fill="#262626" font-style="italic">s</text>
<text transform="translate(98.6 4000.55) rotate(-90) scale(0.9908 1)" font-size="54" fill="#262626" font-style="italic">e</text>
<text transform="translate(94.3 3990.36) rotate(-90) scale(0.8217 1)" font-size="50" fill="#262626">ˆ</text>
<text transform="translate(106.5 3976.27) rotate(-90) scale(1.0699 1)" font-size="40" fill="#262626" font-style="italic">α</text>
<text transform="translate(106.5 3947.89) rotate(-90) scale(1.1751 1)" font-size="40" fill="#262626">,</text>
<text transform="translate(105 3937.38) rotate(-90) scale(1.1453 1)" font-size="39" fill="#262626" font-style="italic">β</text>
<text transform="translate(98.5 3904.04) rotate(-90) scale(1.0213 1)" font-size="61" fill="#262626">(</text>
<text transform="translate(98.8 3880.09) rotate(-90) scale(1.0392 1)" font-size="59" fill="#262626">V</text>
<text transform="translate(98.5 3836.24) rotate(-90) scale(0.8872 1)" font-size="61" fill="#262626">)</text>
<text transform="translate(992.34 4775.3) scale(0.9149 1)" font-size="85.97" fill="#000">(</text>
<text transform="translate(1018.33 4776.81) scale(0.9561 1)" font-size="84.81" fill="#000" font-weight="bold">c</text>
<text transform="translate(1055.15 4775.3) scale(0.9194 1)" font-size="85.97" fill="#000">)</text>
</g>
</svg></body></html>
